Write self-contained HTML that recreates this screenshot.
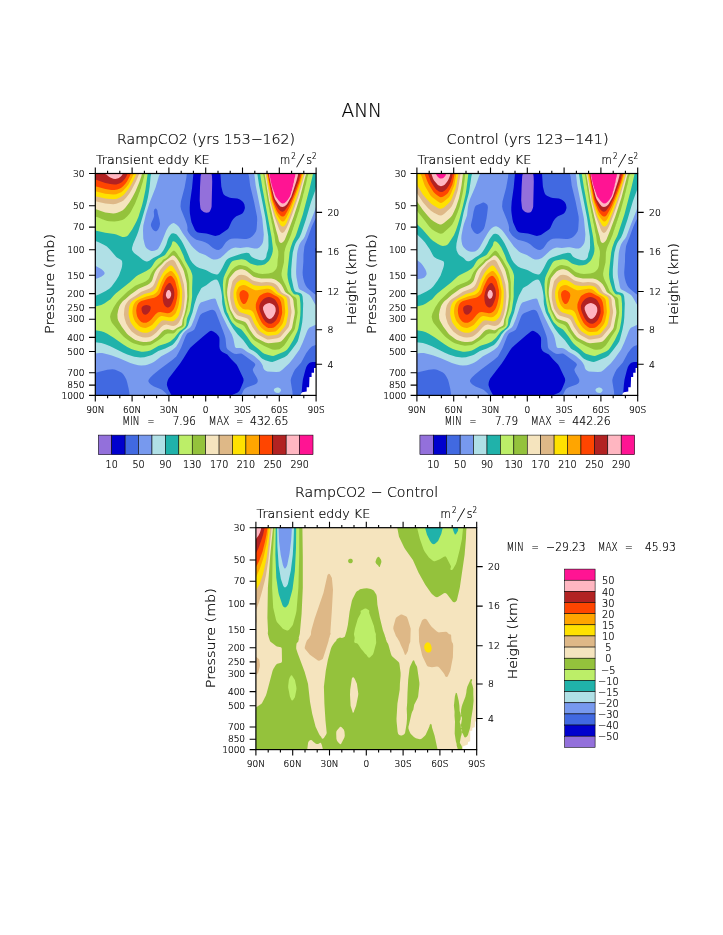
<!DOCTYPE html><html><head><meta charset="utf-8"><title>ANN Transient eddy KE</title>
<style>html,body{margin:0;padding:0;background:#fff}svg{display:block}text{font-family:"DejaVu Sans Light","DejaVu Sans","Liberation Sans",sans-serif;font-weight:200;fill:#000;stroke:#000;stroke-width:.22px}</style></head><body>
<svg width="723" height="935" viewBox="0 0 723 935">
<rect width="723" height="935" fill="#fff"/>
<defs><clipPath id="cp"><rect x="0" y="0" width="220.8" height="221.9"/></clipPath></defs>
<text x="361.7" y="116.9" font-size="20.0" text-anchor="middle" textLength="40.5" lengthAdjust="spacingAndGlyphs">ANN</text>
<g transform="translate(95.3,173.5)">
<g clip-path="url(#cp)"><rect x="0" y="0" width="220.8" height="221.9" fill="#9370DB"/>
<path d="M0.0,0.0 106.2,0.0 105.7,1.0 105.3,3.0 104.7,14.0 104.4,27.0 104.9,33.0 105.2,35.0 106.0,36.6 108.0,38.3 109.0,38.8 111.0,39.2 113.0,39.0 114.0,38.4 114.4,38.0 115.0,37.0 116.0,34.4 116.3,33.0 116.9,8.0 116.7,3.0 116.4,1.0 116.0,0.0 221.0,0.0 221.0,212.6 219.9,217.0 219.6,222.0 0.0,222.0Z" fill="#0000CD"/>
<path d="M0.0,0.0 98.1,0.0 96.8,14.0 94.8,28.0 94.4,34.0 94.4,37.0 94.6,40.0 95.6,46.0 96.3,49.0 99.4,56.0 100.0,57.0 101.0,58.0 102.0,58.7 104.0,59.3 111.0,59.9 113.0,60.4 118.0,62.1 120.0,62.4 122.0,62.1 124.0,61.4 132.0,56.0 133.0,55.0 133.6,54.0 136.3,48.0 138.0,45.6 139.5,44.0 141.0,42.8 145.2,41.0 147.0,39.9 148.0,38.7 148.9,37.0 149.5,35.0 149.6,34.0 149.1,31.0 148.1,29.0 147.0,27.8 145.0,26.3 144.0,25.8 142.0,25.1 136.0,24.4 133.9,24.0 130.0,22.3 128.5,21.0 127.9,20.0 127.2,18.0 126.0,12.9 125.1,0.0 221.0,0.0 221.0,73.4 220.3,75.0 220.2,76.0 220.7,80.0 221.0,92.2 221.0,188.5 220.0,188.6 217.0,188.5 215.0,188.9 214.0,189.5 213.0,190.5 212.0,191.8 211.0,193.6 209.9,197.0 207.6,206.0 207.0,211.0 206.1,222.0 135.6,222.0 142.0,219.3 143.0,218.6 144.0,217.6 145.0,215.7 147.8,209.0 148.3,207.0 148.1,205.0 142.4,193.0 141.2,191.0 136.0,185.8 132.0,181.1 131.0,180.4 127.0,178.5 125.4,177.0 124.4,175.0 124.1,173.0 124.2,166.0 124.0,164.0 123.0,162.2 121.0,159.9 118.0,158.0 116.0,157.3 115.0,157.4 114.0,158.1 109.0,161.9 98.0,171.5 95.0,174.3 93.0,176.9 88.1,185.0 84.8,190.0 73.3,205.0 72.4,207.0 71.8,209.0 71.6,211.0 71.7,212.0 73.1,216.0 76.3,222.0 0.0,222.0Z" fill="#4169E1"/>
<path d="M0.0,0.0 91.5,0.0 91.1,4.0 89.3,14.0 85.6,28.0 85.2,33.0 85.8,36.0 90.0,46.2 91.7,51.0 92.2,54.0 92.1,57.0 93.1,59.0 95.3,62.0 97.0,63.6 99.0,65.1 101.0,66.2 107.0,67.8 110.3,69.0 113.0,70.6 117.0,74.0 119.0,75.3 121.0,76.2 123.0,76.5 124.0,76.3 126.0,75.0 127.0,73.9 130.4,69.0 132.0,67.5 134.0,66.0 136.0,65.3 139.0,64.9 142.0,64.9 149.0,65.6 151.0,65.5 153.1,65.0 155.0,64.3 157.0,62.7 159.0,60.5 160.6,58.0 161.2,56.0 161.5,53.0 161.9,46.0 161.7,43.0 158.7,28.0 154.8,12.0 153.7,3.0 152.9,0.0 221.0,0.0 221.0,43.8 219.0,47.4 216.5,53.0 212.5,64.0 209.7,71.0 209.1,73.0 208.2,81.0 208.1,88.0 207.3,99.0 207.5,102.0 208.0,105.1 209.1,109.0 210.4,112.0 211.8,114.0 213.8,116.0 219.0,120.3 221.0,121.6 221.0,171.2 217.0,172.8 216.0,173.4 214.0,175.4 211.0,179.5 205.9,189.0 199.7,196.0 198.1,199.0 196.0,204.0 195.5,206.0 195.4,207.0 195.6,209.0 197.1,218.0 197.4,222.0 145.4,222.0 146.9,220.0 148.0,217.3 148.8,216.0 149.8,215.0 152.0,213.8 159.6,211.0 161.2,210.0 162.0,209.0 162.4,208.0 162.4,207.0 162.3,206.0 161.4,204.0 158.4,199.0 157.6,197.0 157.5,196.0 157.9,195.0 159.8,192.0 160.0,191.0 159.5,190.0 158.6,189.0 149.2,182.0 147.0,180.6 146.0,180.1 145.0,180.0 141.0,180.6 139.0,180.3 136.6,179.0 132.5,176.0 132.0,175.5 131.2,174.0 131.0,173.0 130.2,165.0 129.4,162.0 127.6,157.0 121.0,140.0 120.0,138.0 119.0,136.9 118.0,136.4 117.0,136.3 115.0,136.6 110.0,138.5 107.0,139.8 105.5,141.0 105.0,141.6 104.0,143.5 100.4,153.0 99.0,155.9 98.0,156.8 97.0,157.5 93.0,159.3 92.0,160.0 91.0,161.4 90.0,163.5 85.9,174.0 83.0,179.6 81.0,182.9 79.0,184.8 77.0,186.5 64.2,196.0 58.1,201.0 55.0,204.0 53.5,206.0 53.1,207.0 53.1,208.0 54.0,209.5 55.5,211.0 58.6,213.0 65.0,215.6 67.0,216.6 70.0,219.2 71.0,220.3 72.2,222.0 34.3,222.0 34.0,219.0 33.3,215.0 31.9,209.0 31.0,206.0 29.4,203.0 28.1,201.0 27.2,200.0 26.0,199.0 24.0,197.9 20.0,196.3 19.0,196.0 17.0,195.7 12.0,196.2 0.0,199.2ZM59.0,36.0 58.5,38.0 58.8,42.0 58.7,43.0 58.0,45.0 56.0,49.4 55.6,51.0 55.6,52.0 56.0,53.3 57.0,55.2 58.0,56.5 59.0,57.3 60.0,57.8 61.0,57.7 62.0,57.0 63.0,55.7 64.2,53.0 64.6,51.0 64.7,50.0 64.1,46.0 62.5,40.0 62.0,36.8 61.0,35.2 60.0,35.1Z" fill="#7799EE"/>
<path d="M0.0,0.0 65.2,0.0 64.0,1.8 63.5,3.0 60.3,14.0 54.0,30.0 50.6,41.0 48.0,52.0 47.7,57.0 48.0,65.0 49.4,71.0 50.0,72.8 50.7,74.0 51.6,75.0 53.0,76.0 54.7,77.0 56.0,77.4 57.0,77.5 59.0,77.2 61.0,76.5 62.0,75.9 63.0,74.9 65.0,71.4 67.0,67.0 71.0,57.1 73.0,53.5 74.0,52.2 76.0,50.5 78.0,49.6 79.0,49.7 81.0,50.9 83.0,52.8 84.0,54.0 87.6,60.0 96.0,71.9 98.0,74.2 101.0,77.0 104.0,79.2 110.0,81.6 116.0,85.2 118.0,85.9 120.0,86.1 122.0,85.8 125.0,84.4 128.0,82.1 133.0,77.3 136.0,75.3 138.0,74.4 140.0,74.1 145.0,74.4 151.0,73.7 153.0,73.7 159.0,74.9 162.0,75.0 163.0,74.6 164.0,73.9 166.0,71.7 167.1,70.0 167.5,69.0 168.0,66.7 168.5,61.0 167.0,45.0 160.4,12.0 159.2,2.0 158.8,0.0 221.0,0.0 221.0,32.5 219.2,38.0 213.6,52.0 209.5,63.0 208.0,65.6 206.6,67.0 205.2,69.0 204.1,71.0 203.4,73.0 202.3,77.0 201.8,80.0 201.1,90.0 200.8,98.0 200.9,101.0 201.2,104.0 202.9,113.0 203.6,115.0 204.5,116.0 208.0,117.7 213.4,121.0 214.6,122.0 216.0,124.0 219.4,130.0 221.0,132.2 221.0,151.0 215.0,153.7 214.0,154.3 213.0,155.4 212.0,157.2 207.4,169.0 204.2,176.0 197.8,185.0 194.0,189.7 187.0,196.2 185.0,197.8 184.0,198.2 181.0,198.5 172.0,197.9 170.0,197.1 168.8,196.0 168.0,194.6 167.4,192.0 165.7,189.0 164.1,187.0 159.0,182.6 156.7,181.0 152.0,178.4 149.0,176.2 147.0,175.1 145.0,174.5 141.0,174.5 140.1,174.0 139.6,173.0 138.0,165.0 136.6,161.0 132.2,153.0 126.8,142.0 122.3,131.0 120.6,126.0 120.0,125.3 119.0,125.1 116.0,125.6 107.0,128.4 106.0,128.8 105.0,129.5 104.0,131.0 103.0,133.2 99.1,145.0 96.2,152.0 94.8,154.0 90.0,157.5 88.0,159.8 86.7,162.0 83.4,169.0 81.0,173.1 80.0,174.1 77.0,176.4 73.0,178.9 66.0,182.7 60.0,187.5 58.0,188.7 56.0,189.7 52.0,191.3 50.0,191.8 46.0,192.0 43.0,191.7 39.0,190.7 35.0,189.5 24.0,184.8 16.5,182.0 13.0,180.9 9.0,179.9 7.0,179.6 4.0,179.6 0.0,180.0 0.0,105.5 3.0,104.5 6.3,103.0 8.0,101.8 8.8,101.0 9.3,100.0 9.2,99.0 8.6,98.0 6.6,96.0 5.0,94.9 0.0,92.3ZM181.8,214.0 183.0,214.0 184.0,214.4 184.9,215.0 185.6,216.0 185.7,217.0 185.2,218.0 184.0,219.2 183.0,219.5 181.0,219.3 180.0,218.7 179.2,218.0 178.6,217.0 178.6,216.0 179.3,215.0 181.0,214.2Z" fill="#B0E0E6"/>
<path d="M0.0,0.0 56.0,0.0 55.3,3.0 54.4,13.0 53.5,19.0 52.6,24.0 51.2,30.0 43.0,57.9 41.5,62.0 38.0,70.0 36.8,74.0 36.7,76.0 37.0,77.0 38.4,79.0 39.4,80.0 43.5,83.0 47.0,86.0 49.0,87.3 51.0,87.9 52.0,87.9 54.0,87.2 58.0,84.6 63.0,82.0 64.6,81.0 65.7,80.0 68.0,77.0 69.6,74.0 71.0,70.9 72.5,66.0 73.4,64.0 75.0,61.4 76.0,60.2 76.5,60.0 78.0,59.8 79.0,59.9 81.0,60.8 82.0,61.7 84.0,64.2 86.0,67.1 87.7,70.0 90.6,76.0 95.0,86.2 97.0,89.2 99.0,91.3 101.0,92.9 104.0,94.5 109.0,96.0 111.0,96.7 116.0,99.4 118.0,100.2 121.0,101.0 122.0,101.0 123.0,100.4 125.0,97.7 127.0,94.2 129.6,89.0 130.8,87.0 131.7,86.0 133.0,85.0 135.0,84.0 146.0,80.2 151.0,79.3 153.0,79.5 154.0,80.0 155.2,82.0 156.0,83.0 157.4,84.0 160.0,85.2 164.0,86.4 166.0,86.8 167.0,86.7 168.0,86.5 169.0,85.9 170.0,85.0 170.7,84.0 171.0,83.0 171.5,80.0 172.5,77.0 173.0,74.9 173.2,72.0 173.0,63.0 170.1,44.0 163.8,12.0 162.0,0.0 221.0,0.0 221.0,10.7 220.4,15.0 219.9,17.0 215.9,28.0 210.6,46.0 205.9,60.0 204.1,64.0 201.3,68.0 200.2,70.0 199.0,73.3 197.5,79.0 196.7,86.0 195.9,96.0 195.9,101.0 196.1,104.0 198.2,114.0 198.8,116.0 199.2,117.0 200.0,117.9 201.0,118.4 204.0,119.2 205.7,120.0 206.6,121.0 207.3,123.0 207.9,130.0 207.4,144.0 206.9,149.0 205.6,156.0 203.3,165.0 202.3,168.0 200.4,171.0 195.9,177.0 192.0,181.7 191.0,182.6 189.0,183.7 180.0,187.6 177.0,188.4 175.0,188.3 170.0,186.7 167.0,185.2 165.5,184.0 162.0,180.3 160.5,179.0 158.0,177.3 155.4,176.0 154.0,175.0 148.0,166.7 142.0,160.5 138.0,155.3 134.8,150.0 129.5,140.0 128.7,138.0 127.1,131.0 126.8,128.0 126.8,125.0 126.6,122.0 126.0,118.0 125.0,113.6 124.0,110.5 123.0,108.0 122.0,106.5 121.0,106.0 119.0,106.3 117.0,107.2 115.7,108.0 111.0,111.8 107.0,113.9 106.0,114.7 102.0,122.3 101.0,124.9 99.1,131.0 97.2,139.0 94.6,146.0 92.7,152.0 91.4,154.0 90.5,155.0 88.0,157.0 84.5,161.0 82.0,165.4 79.0,169.4 77.0,171.4 75.0,172.6 70.0,175.0 65.0,176.7 63.0,177.5 57.0,181.2 55.0,182.1 49.0,183.8 45.0,183.9 39.0,183.3 32.0,181.0 28.0,179.2 15.0,172.7 10.0,170.7 6.0,169.6 0.0,168.8 0.0,122.3 3.5,121.0 10.0,117.8 14.0,115.3 16.3,113.0 20.7,107.0 23.7,102.0 26.2,95.0 26.7,93.0 27.0,90.0 26.8,88.0 26.4,87.0 25.1,86.0 22.0,84.3 21.0,83.5 14.6,76.0 11.6,73.0 9.0,71.4 4.0,69.0 1.5,68.0 0.0,67.6Z" fill="#20B2AA"/>
<path d="M0.0,0.0 52.4,0.0 50.2,16.0 48.0,26.7 46.7,32.0 43.0,43.8 41.0,48.3 37.0,55.8 33.0,61.4 32.0,62.4 31.0,63.1 29.0,63.6 27.0,63.5 21.0,61.1 19.0,60.5 10.0,59.2 0.0,56.9ZM164.8,0.0 217.8,0.0 214.3,15.0 207.5,41.0 200.9,61.0 200.1,63.0 197.5,68.0 195.4,74.0 194.3,79.0 192.4,96.0 192.1,101.0 192.5,105.0 193.4,109.0 196.0,117.0 198.0,119.9 199.0,120.7 200.0,121.0 202.0,121.1 203.0,121.5 203.7,122.0 204.3,123.0 204.5,124.0 205.1,130.0 205.2,136.0 205.0,142.0 204.3,148.0 203.0,155.0 202.0,158.1 198.0,166.6 194.1,173.0 191.9,176.0 190.0,177.5 188.0,178.6 180.0,181.7 178.0,182.4 176.0,182.3 173.0,181.6 169.0,180.2 167.0,179.0 164.0,176.2 159.0,172.2 156.6,170.0 155.0,168.0 152.0,163.6 148.0,158.2 146.1,156.0 141.0,153.0 140.0,152.1 137.0,148.9 136.3,148.0 134.6,145.0 132.5,140.0 131.8,139.0 131.4,138.0 129.6,130.0 128.3,121.0 127.9,117.0 127.6,111.0 127.9,107.0 128.4,104.0 129.6,101.0 133.0,93.9 135.1,90.0 136.0,88.7 137.0,87.8 138.8,87.0 143.0,86.2 146.0,85.8 148.0,85.9 150.0,86.4 151.0,87.0 155.0,89.9 158.0,91.1 162.0,92.0 166.0,91.8 169.0,91.0 170.0,90.4 172.9,88.0 173.8,87.0 175.0,85.0 176.7,81.0 177.4,78.0 177.6,75.0 176.3,64.0 167.0,14.0ZM77.4,68.0 78.0,67.7 79.0,67.9 80.0,68.4 82.0,70.5 84.4,74.0 88.1,82.0 89.8,87.0 95.5,97.0 96.6,100.0 97.1,102.0 97.2,104.0 96.8,115.0 96.8,123.0 96.5,126.0 94.8,137.0 93.8,140.0 92.1,144.0 91.5,146.0 91.1,150.0 90.7,152.0 89.4,154.0 87.0,156.1 85.4,157.0 84.0,158.3 79.0,164.5 75.0,168.1 73.0,169.1 70.0,170.3 65.0,171.7 63.0,172.5 57.0,176.0 55.0,176.9 52.0,177.7 48.0,178.3 46.0,178.2 43.0,177.6 39.0,176.6 36.0,175.5 32.0,173.5 28.0,171.1 18.0,164.0 12.0,160.2 9.0,158.8 6.0,157.8 0.0,156.8 0.0,133.0 4.0,132.1 6.0,131.4 9.0,129.9 14.0,126.6 15.0,125.9 18.4,122.0 20.4,120.0 26.0,115.4 34.2,109.0 41.0,102.8 43.0,101.5 51.0,97.5 54.8,95.0 56.6,93.0 59.0,89.0 60.5,87.0 63.0,85.1 69.0,82.1 70.1,81.0 75.5,73.0 76.4,71.0 77.0,68.4Z" fill="#BCEE68"/>
<path d="M0.0,0.0 49.2,0.0 48.6,4.0 48.0,5.8 47.6,8.0 46.0,13.0 45.5,15.0 45.0,16.0 44.5,18.0 44.0,19.0 42.6,23.0 39.8,30.0 35.7,38.0 34.4,40.0 32.0,42.7 29.0,45.5 27.0,46.6 23.0,47.6 19.0,47.9 14.0,47.7 12.0,47.4 9.0,46.6 8.0,46.0 7.0,45.7 3.1,44.0 0.0,42.9ZM167.7,0.0 213.3,0.0 212.0,4.0 210.6,11.0 210.0,12.7 208.6,19.0 208.0,20.8 207.6,23.0 203.5,38.0 203.0,39.0 201.5,44.0 201.0,45.1 200.5,47.0 200.0,48.0 199.5,50.0 199.0,51.0 198.5,53.0 198.0,54.0 197.5,56.0 197.0,57.0 195.8,61.0 193.3,67.0 191.0,72.0 189.9,75.0 189.0,79.0 188.8,86.0 188.6,89.0 186.9,96.0 186.2,100.0 186.3,102.0 187.1,105.0 187.9,107.0 190.4,112.0 192.9,118.0 197.0,122.1 200.3,124.0 201.0,125.0 201.4,126.0 202.3,139.0 201.6,144.0 201.0,146.7 199.8,154.0 199.6,155.0 198.7,157.0 194.0,164.0 191.6,168.0 188.8,172.0 186.0,174.6 184.0,175.7 180.0,176.2 179.0,176.2 177.0,175.9 174.0,174.8 169.0,172.4 160.0,167.5 158.1,166.0 156.4,164.0 151.4,157.0 151.0,156.0 149.2,153.0 148.2,152.0 146.6,151.0 143.0,149.7 141.0,148.7 139.0,146.9 138.2,146.0 137.2,144.0 133.4,136.0 133.0,134.0 132.7,133.0 131.3,127.0 131.0,125.0 130.5,123.0 130.1,120.0 130.0,117.0 130.2,111.0 130.6,108.0 131.2,105.0 132.7,102.0 135.2,98.0 137.0,95.8 140.0,93.3 141.0,92.7 143.0,91.8 145.0,91.5 150.0,92.4 152.0,93.2 155.0,95.4 158.0,97.9 160.0,99.0 162.0,99.5 163.0,100.0 167.0,100.5 173.4,100.0 177.0,98.9 178.5,98.0 180.0,96.6 181.1,95.0 182.0,92.3 182.4,86.0 183.0,81.8 183.0,78.0 182.0,74.1 180.7,71.0 180.1,69.0 179.0,61.0 178.4,59.0 177.0,51.0 176.4,49.0 176.0,46.0 175.4,44.0 175.0,41.0 174.4,39.0 174.0,35.9 172.3,28.0 171.0,19.4 170.3,16.0 170.0,13.0 169.5,11.0 169.0,6.7 168.0,1.0ZM77.1,78.0 78.0,77.3 79.0,77.2 80.0,77.9 81.7,80.0 83.0,82.2 85.7,86.0 90.7,95.0 91.5,97.0 92.6,101.0 93.5,106.0 93.9,109.0 93.9,112.0 93.9,121.0 93.7,126.0 93.0,130.0 92.7,133.0 91.8,137.0 90.7,141.0 88.9,146.0 88.8,151.0 88.6,152.0 87.9,153.0 87.0,153.8 82.0,155.9 80.5,158.0 79.0,159.5 78.0,159.9 77.0,160.0 72.5,160.0 70.0,160.9 66.0,164.5 63.0,166.8 57.0,170.6 55.0,171.4 53.0,171.8 48.0,172.3 44.0,171.6 38.0,169.8 36.0,168.8 34.0,167.4 30.0,164.5 28.2,163.0 25.4,160.0 17.2,150.0 16.5,149.0 15.6,147.0 14.9,144.0 14.8,143.0 15.5,140.0 18.3,134.0 21.5,129.0 24.0,126.1 32.0,118.3 40.0,112.3 44.0,110.4 48.0,109.0 49.0,108.4 50.2,108.0 52.9,106.0 54.0,104.4 55.4,101.0 56.0,100.0 56.4,99.0 58.6,96.0 63.0,91.3 66.5,88.0 67.1,87.0 68.0,86.1 70.2,85.0 72.0,83.7 76.0,79.0Z" fill="#94C23C"/>
<path d="M0.0,0.0 46.8,0.0 46.0,3.1 44.0,8.7 40.0,18.2 37.0,24.0 34.0,29.1 30.0,34.2 28.3,36.0 27.1,37.0 25.0,38.1 22.0,39.2 20.0,39.8 18.0,39.9 14.0,39.5 10.0,38.9 7.0,38.0 0.0,35.5ZM169.2,0.0 211.1,0.0 210.0,3.3 204.6,24.0 198.4,43.0 193.2,57.0 189.6,66.0 189.0,67.1 188.0,68.3 187.0,69.1 186.0,69.5 185.0,69.2 184.7,69.0 184.0,68.2 183.5,67.0 182.7,63.0 181.0,57.3 177.3,43.0 173.7,27.0 170.0,3.9ZM77.5,82.0 78.0,81.9 79.0,82.3 81.6,85.0 83.6,88.0 87.5,95.0 88.7,98.0 91.0,107.2 91.5,110.0 92.0,123.0 91.3,130.0 90.3,136.0 89.1,141.0 87.4,146.0 86.7,151.0 86.2,152.0 85.0,152.8 82.0,154.2 79.0,156.3 78.0,156.7 77.0,156.7 74.0,156.0 72.0,155.8 70.0,156.2 69.0,156.6 67.0,158.1 63.5,162.0 62.0,163.4 57.0,167.0 55.0,167.9 51.0,168.5 48.0,168.6 45.0,167.9 40.0,166.4 38.0,165.3 36.0,163.8 33.0,161.5 31.5,160.0 26.3,153.0 23.0,147.3 22.3,145.0 22.1,141.0 22.8,137.0 24.0,133.0 25.0,131.0 27.0,128.3 28.0,127.3 30.0,125.8 33.0,122.9 35.0,121.3 43.0,115.4 45.0,114.4 52.0,111.5 54.0,110.3 55.0,109.3 56.2,108.0 57.0,106.6 58.7,101.0 59.5,99.0 60.6,97.0 62.1,95.0 67.0,90.2 69.0,88.0 73.2,85.0 76.0,82.8 77.0,82.1ZM143.8,96.0 145.0,95.8 147.0,95.8 150.0,96.8 152.0,98.0 158.0,102.9 160.9,104.0 166.0,105.1 173.0,104.9 176.0,105.1 179.0,105.8 181.0,106.7 184.0,108.9 185.9,111.0 187.7,114.0 189.6,118.0 190.5,119.0 194.9,122.0 196.7,124.0 197.4,125.0 198.1,127.0 198.6,132.0 199.4,137.0 199.5,139.0 199.3,141.0 196.8,154.0 196.0,155.7 195.1,157.0 188.0,165.8 186.0,167.7 185.0,168.2 183.0,168.7 176.0,169.6 173.0,169.8 172.0,169.6 170.0,168.9 162.0,165.0 160.0,163.6 157.8,161.0 154.4,156.0 151.9,151.0 150.4,149.0 148.7,148.0 143.0,146.3 141.0,145.4 139.5,144.0 138.0,141.6 135.0,136.0 134.0,132.3 132.6,126.0 132.0,122.0 131.8,119.0 132.0,115.6 133.4,107.0 134.0,105.1 134.6,104.0 137.0,100.9 139.7,98.0 141.3,97.0Z" fill="#F5E4BE"/>
<path d="M0.0,0.0 44.0,0.0 40.6,8.0 36.5,16.0 34.1,20.0 31.0,24.0 28.2,27.0 26.0,28.3 21.0,30.3 18.0,30.7 10.0,30.0 0.0,27.8ZM170.2,0.0 209.6,0.0 203.4,22.0 196.4,42.0 193.0,50.8 191.0,55.1 189.0,58.2 188.0,59.1 187.0,59.5 186.0,59.1 185.0,58.0 184.0,56.3 178.7,42.0 174.7,27.0ZM74.3,87.0 76.0,86.4 77.0,86.3 78.0,86.5 79.0,87.2 80.0,88.6 83.7,96.0 85.0,99.0 86.4,103.0 88.6,111.0 89.4,119.0 89.5,123.0 89.3,126.0 88.4,135.0 87.0,141.0 86.0,144.0 85.0,146.3 83.5,149.0 82.0,150.8 81.0,151.5 80.0,152.0 78.0,152.4 76.0,152.2 71.0,151.1 69.0,151.5 67.9,152.0 66.0,153.6 61.0,159.1 58.0,161.5 55.7,163.0 53.0,163.8 50.0,164.1 47.0,163.7 44.0,162.8 42.0,161.9 40.0,160.7 36.4,158.0 33.3,154.0 30.9,150.0 29.3,145.0 28.6,141.0 29.1,135.0 29.9,132.0 31.0,130.0 33.0,127.2 35.0,125.5 40.6,122.0 46.0,118.3 48.0,117.4 54.5,115.0 56.0,114.1 57.0,113.2 58.0,112.0 59.0,110.3 63.1,100.0 65.2,96.0 71.0,89.2ZM142.8,102.0 144.0,101.5 146.0,101.3 148.0,101.5 150.0,102.0 152.0,103.0 157.0,106.7 159.0,107.6 161.0,108.1 166.0,108.9 171.0,108.6 174.0,108.7 176.0,109.0 178.0,109.6 180.0,110.6 182.0,112.3 183.3,114.0 185.6,118.0 186.5,119.0 188.0,120.0 192.0,122.1 193.3,123.0 194.0,123.9 194.7,126.0 195.0,130.2 196.1,137.0 196.2,139.0 194.1,151.0 193.5,153.0 193.0,154.0 186.4,162.0 185.0,163.4 184.0,164.1 182.0,164.7 174.0,165.9 172.0,165.9 169.0,164.6 164.0,161.8 161.7,160.0 157.0,153.3 154.0,147.1 153.0,145.8 152.0,145.1 150.0,144.3 144.0,142.6 142.5,142.0 141.0,140.8 139.0,138.2 137.1,135.0 136.0,131.0 135.0,126.0 134.8,124.0 134.9,119.0 135.3,116.0 137.1,108.0 138.0,106.6 139.0,105.4 141.0,103.5Z" fill="#DEB887"/>
<path d="M0.0,0.0 41.3,0.0 38.1,7.0 35.4,12.0 33.0,15.7 29.0,20.7 27.0,22.6 25.0,23.8 21.0,25.4 20.0,25.6 18.0,25.8 10.0,25.1 0.0,22.7ZM170.9,0.0 208.5,0.0 206.3,8.0 202.3,21.0 196.0,38.2 191.0,49.9 190.0,51.4 189.0,52.5 188.0,53.0 186.9,53.0 186.0,52.5 185.0,51.4 181.0,43.9 179.8,41.0 175.6,27.0ZM75.0,92.0 76.0,92.0 77.0,92.4 78.0,93.4 80.0,96.4 83.2,102.0 84.5,106.0 86.7,116.0 86.9,118.0 86.8,122.0 86.7,126.0 86.3,131.0 85.6,135.0 83.4,142.0 82.1,144.0 81.0,145.3 79.1,147.0 78.0,147.6 77.0,147.8 75.0,147.8 69.0,146.8 67.1,147.0 66.0,147.5 64.0,149.4 59.4,155.0 57.0,156.8 54.0,158.6 52.0,159.2 49.0,159.2 47.0,158.9 45.0,158.2 42.0,156.5 40.0,154.9 36.8,151.0 35.5,149.0 35.0,148.0 33.7,143.0 33.2,140.0 33.7,134.0 34.6,131.0 35.7,129.0 37.0,127.4 40.6,125.0 49.0,120.6 55.0,118.9 57.0,118.1 59.0,116.5 60.0,115.3 60.8,114.0 63.6,107.0 67.3,100.0 69.0,97.6 72.0,94.2 74.0,92.4ZM144.4,107.0 146.0,106.3 147.0,106.2 150.0,106.7 152.7,108.0 158.0,111.5 160.0,112.1 165.0,112.5 173.0,112.1 176.0,112.6 178.0,113.5 179.0,114.3 180.0,115.4 181.8,118.0 182.7,119.0 186.0,121.0 189.8,123.0 191.0,124.0 191.5,125.0 191.8,126.0 193.0,138.0 192.7,141.0 191.2,149.0 190.6,151.0 189.4,153.0 184.5,159.0 183.0,160.5 182.0,161.1 180.0,161.6 173.0,162.3 171.0,161.8 168.0,160.1 164.8,158.0 162.9,156.0 159.6,151.0 158.5,149.0 156.4,144.0 155.8,143.0 155.0,142.2 153.0,141.2 145.6,139.0 144.0,137.9 142.0,135.4 140.5,133.0 139.3,129.0 138.3,124.0 138.2,119.0 138.5,117.0 139.3,114.0 140.9,110.0 142.0,108.7Z" fill="#FFE100"/>
<path d="M0.0,0.0 38.6,0.0 36.3,5.0 33.1,11.0 31.0,13.7 28.0,17.1 26.0,18.7 24.0,19.6 21.0,20.7 18.0,21.1 10.0,20.3 0.0,17.7ZM171.6,0.0 207.5,0.0 205.4,8.0 202.0,17.9 196.0,33.7 191.0,44.6 189.4,47.0 189.0,47.5 188.0,48.0 187.0,48.0 186.0,47.4 184.0,45.0 182.0,42.1 181.0,40.2 180.0,37.6 177.0,28.9 176.0,24.9ZM74.0,98.0 75.0,97.5 76.0,97.5 77.0,98.0 79.0,100.3 81.0,103.5 81.7,105.0 82.3,107.0 84.5,117.0 84.6,119.0 84.4,124.0 83.6,130.0 82.6,134.0 80.7,139.0 80.0,140.2 79.0,141.3 77.0,143.0 76.0,143.5 75.0,143.7 73.0,143.7 67.0,142.6 66.0,142.6 64.7,143.0 63.2,144.0 62.0,145.2 57.0,151.2 55.0,152.6 53.0,153.6 51.0,154.3 50.0,154.4 47.0,154.0 45.0,153.3 43.0,151.8 40.0,148.3 38.8,146.0 37.8,143.0 37.2,140.0 37.1,138.0 37.5,134.0 38.4,131.0 39.6,129.0 40.4,128.0 42.0,126.7 44.0,125.7 51.0,123.1 58.0,121.2 59.9,120.0 61.1,119.0 62.0,118.0 63.0,116.3 65.7,109.0 69.0,102.6 71.0,100.3ZM145.9,112.0 148.0,111.5 150.0,111.8 152.0,112.7 157.0,115.5 160.0,116.7 162.0,116.8 171.0,115.3 173.0,115.3 175.0,115.8 177.0,116.9 180.4,120.0 182.0,121.0 185.0,122.5 187.1,124.0 188.0,125.0 188.6,126.0 189.0,127.8 189.9,137.0 189.9,139.0 189.4,142.0 188.1,148.0 187.3,150.0 186.0,151.9 183.0,155.4 181.0,157.4 180.0,157.9 178.0,158.3 175.0,158.6 173.0,158.6 171.0,157.9 169.0,156.7 166.0,154.3 164.0,151.8 161.0,146.3 158.6,140.0 158.0,138.9 157.0,137.7 156.0,137.0 155.0,136.5 153.0,136.1 150.0,136.0 148.0,135.4 147.0,134.9 145.0,133.0 144.0,131.7 143.1,130.0 142.0,126.9 141.3,124.0 141.0,120.0 141.0,119.0 141.6,117.0 143.0,114.1 144.0,113.0Z" fill="#FFA500"/>
<path d="M0.0,0.0 35.7,0.0 34.0,3.7 31.7,8.0 30.3,10.0 28.0,12.5 26.0,14.3 24.7,15.0 22.0,16.0 19.0,16.6 16.0,16.5 10.0,15.6 0.0,12.7ZM172.2,0.0 206.4,0.0 206.0,2.1 204.0,9.0 200.0,19.8 195.0,31.9 192.0,37.8 190.0,41.2 189.0,42.4 188.0,43.0 187.0,43.1 186.0,42.7 185.0,41.9 183.0,39.8 182.0,38.3 181.0,36.2 178.0,28.8 177.0,25.7ZM73.3,103.0 75.0,102.2 76.0,102.4 77.0,103.2 79.0,106.0 80.0,108.3 82.1,117.0 82.2,121.0 81.7,125.0 80.3,131.0 79.2,134.0 78.2,136.0 76.5,138.0 75.0,139.1 74.0,139.5 72.0,139.7 65.0,138.5 63.0,138.7 62.0,139.2 60.0,140.9 55.9,146.0 54.8,147.0 53.0,148.2 51.0,149.2 50.0,149.3 48.0,149.2 46.0,148.4 44.4,147.0 42.9,145.0 41.9,143.0 41.2,140.0 40.9,137.0 41.3,134.0 41.8,132.0 42.8,130.0 44.0,128.7 46.0,127.6 53.0,125.5 59.0,124.2 61.0,123.3 63.0,121.7 64.0,120.7 65.0,119.0 67.0,112.9 70.0,106.7 71.1,105.0 72.0,104.0ZM146.5,117.0 148.0,116.6 149.0,116.8 151.0,117.8 152.4,119.0 153.0,120.0 153.3,121.0 153.4,122.0 153.1,124.0 151.6,128.0 150.2,130.0 149.0,130.6 148.0,130.5 147.3,130.0 146.0,128.3 145.0,126.0 144.3,123.0 144.1,121.0 144.5,119.0 145.2,118.0ZM168.2,120.0 170.0,119.4 172.0,119.0 174.0,119.2 176.0,119.9 179.0,121.7 181.6,123.0 183.0,124.0 184.6,126.0 185.8,129.0 186.5,133.0 186.9,139.0 186.6,141.0 185.2,146.0 184.5,148.0 183.1,150.0 180.0,152.9 178.0,154.2 176.0,154.6 173.0,154.4 171.0,153.5 168.0,151.0 166.4,149.0 163.8,144.0 162.2,140.0 160.8,136.0 160.5,134.0 160.5,131.0 161.0,129.0 162.7,125.0 163.8,123.0 164.8,122.0Z" fill="#FF4500"/>
<path d="M0.0,0.0 32.4,0.0 31.0,3.0 30.0,4.8 29.0,6.1 27.0,8.3 26.0,9.1 24.0,10.1 21.0,10.9 19.0,11.1 15.0,10.6 10.0,9.5 0.0,6.1ZM172.9,0.0 205.1,0.0 204.0,4.9 203.0,8.0 197.0,24.0 193.0,32.0 190.0,36.3 189.0,37.4 188.0,38.1 187.0,38.3 186.0,38.1 185.0,37.6 183.0,35.6 181.0,32.1 178.2,26.0 175.0,11.8ZM73.0,110.0 74.0,109.5 75.0,109.6 76.0,110.5 77.4,113.0 78.3,115.0 78.7,117.0 79.0,119.0 79.0,122.0 78.5,125.0 77.0,128.9 75.6,132.0 75.0,132.8 74.0,133.6 73.0,134.0 72.0,134.0 71.0,133.6 70.0,132.8 69.0,131.4 68.3,130.0 67.6,127.0 67.4,123.0 68.1,119.0 69.4,115.0 71.0,112.3ZM171.0,124.0 173.0,123.5 174.0,123.5 176.0,124.1 179.0,125.6 180.4,127.0 182.0,129.7 183.0,132.0 183.5,134.0 183.8,138.0 183.6,140.0 182.0,144.3 181.0,146.2 180.0,147.5 178.0,149.2 176.0,150.2 175.0,150.3 173.0,149.9 171.3,149.0 170.0,147.9 168.0,145.2 166.8,143.0 165.0,138.8 164.2,136.0 164.0,134.0 164.1,132.0 165.0,129.6 166.0,128.0 167.7,126.0 169.0,125.0ZM48.7,132.0 51.0,131.6 53.7,132.0 55.0,132.7 55.5,134.0 55.2,136.0 54.3,138.0 53.0,139.6 52.0,140.5 51.0,141.1 50.0,141.3 49.0,141.1 48.0,140.4 47.0,138.9 46.4,137.0 46.2,135.0 46.4,134.0 47.1,133.0Z" fill="#B22222"/>
<path d="M8.6,0.0 27.7,0.0 26.5,2.0 25.0,3.6 23.0,4.7 20.0,5.4 18.0,5.2 15.0,4.0 13.4,3.0 11.0,1.1ZM173.6,0.0 202.9,0.0 202.6,2.0 201.3,7.0 196.0,23.0 192.0,30.2 191.0,31.4 189.0,32.9 187.0,33.5 186.0,33.3 185.0,32.9 183.0,30.8 180.0,26.2 179.4,25.0 178.7,23.0 175.6,11.0 174.0,3.0ZM72.1,117.0 73.0,116.5 74.0,116.6 75.2,118.0 75.9,120.0 75.8,122.0 75.0,124.0 74.0,125.0 73.0,125.3 72.0,124.9 71.0,123.3 70.6,122.0 70.6,121.0 71.0,119.0ZM171.9,130.0 174.0,129.6 175.0,129.7 177.0,130.5 179.0,132.1 180.0,133.8 180.3,135.0 180.4,137.0 180.3,138.0 179.2,141.0 178.0,142.9 177.0,144.0 176.0,144.9 175.0,145.3 174.0,145.4 173.0,145.0 172.0,144.2 171.0,143.0 169.0,139.3 167.8,136.0 167.7,134.0 168.1,133.0 169.0,131.8 169.9,131.0Z" fill="#FFB6C1"/>
<path d="M174.2,0.0 200.1,0.0 199.8,3.0 199.0,5.6 198.5,9.0 198.0,10.3 197.6,13.0 197.0,14.6 196.6,17.0 196.0,18.0 195.7,20.0 194.6,23.0 192.7,26.0 191.0,28.0 189.0,29.8 187.0,29.9 186.0,29.6 185.0,28.8 183.3,27.0 180.3,23.0 180.0,21.9 179.5,21.0 179.0,19.0 178.4,18.0 178.0,16.3 177.3,15.0 176.9,13.0 176.4,12.0 176.0,9.7 175.4,8.0 175.0,4.7 174.4,3.0Z" fill="#FF1493"/>
<path d="M220.8,194.6H218.7V199.3H216.3V203.5H214.2L213.8,213.8H211.4V218L206.9,218.7L205.5,220.4V221.9H220.8z" fill="#fff"/>
</g>
<rect x="0" y="0" width="220.8" height="221.9" fill="none" stroke="#000" stroke-width="1.2"/>
<path d="M0.0,0v-6.0M0.0,221.9v6.0M12.3,0v-2.8M12.3,221.9v2.8M24.5,0v-2.8M24.5,221.9v2.8M36.8,0v-6.0M36.8,221.9v6.0M49.1,0v-2.8M49.1,221.9v2.8M61.3,0v-2.8M61.3,221.9v2.8M73.6,0v-6.0M73.6,221.9v6.0M85.9,0v-2.8M85.9,221.9v2.8M98.1,0v-2.8M98.1,221.9v2.8M110.4,0v-6.0M110.4,221.9v6.0M122.7,0v-2.8M122.7,221.9v2.8M134.9,0v-2.8M134.9,221.9v2.8M147.2,0v-6.0M147.2,221.9v6.0M159.5,0v-2.8M159.5,221.9v2.8M171.7,0v-2.8M171.7,221.9v2.8M184.0,0v-6.0M184.0,221.9v6.0M196.3,0v-2.8M196.3,221.9v2.8M208.5,0v-2.8M208.5,221.9v2.8M220.8,0v-6.0M220.8,221.9v6.0M0,0.0h-6.3M0,32.3h-6.3M0,53.6h-6.3M0,76.2h-6.3M0,101.8h-6.3M0,120.1h-6.3M0,134.2h-6.3M0,145.7h-6.3M0,163.9h-6.3M0,178.0h-6.3M0,199.3h-6.3M0,211.6h-6.3M0,221.9h-6.3M220.8,38.9h6M220.8,78.4h6M220.8,118.0h6M220.8,156.3h6M220.8,190.8h6" stroke="#000" stroke-width="1.1" fill="none"/>
<text x="-10.8" y="3.2" font-size="9.0" text-anchor="end">30</text>
<text x="-10.8" y="35.5" font-size="9.0" text-anchor="end">50</text>
<text x="-10.8" y="56.8" font-size="9.0" text-anchor="end">70</text>
<text x="-10.8" y="79.4" font-size="9.0" text-anchor="end">100</text>
<text x="-10.8" y="105.0" font-size="9.0" text-anchor="end">150</text>
<text x="-10.8" y="123.3" font-size="9.0" text-anchor="end">200</text>
<text x="-10.8" y="137.4" font-size="9.0" text-anchor="end">250</text>
<text x="-10.8" y="148.9" font-size="9.0" text-anchor="end">300</text>
<text x="-10.8" y="167.1" font-size="9.0" text-anchor="end">400</text>
<text x="-10.8" y="181.2" font-size="9.0" text-anchor="end">500</text>
<text x="-10.8" y="202.5" font-size="9.0" text-anchor="end">700</text>
<text x="-10.8" y="214.8" font-size="9.0" text-anchor="end">850</text>
<text x="-10.8" y="225.1" font-size="9.0" text-anchor="end">1000</text>
<text x="232.1" y="42.2" font-size="9.3" text-anchor="start">20</text>
<text x="232.1" y="81.7" font-size="9.3" text-anchor="start">16</text>
<text x="232.1" y="121.3" font-size="9.3" text-anchor="start">12</text>
<text x="232.1" y="159.6" font-size="9.3" text-anchor="start">8</text>
<text x="232.1" y="194.1" font-size="9.3" text-anchor="start">4</text>
<text x="0.0" y="239.5" font-size="9.0" text-anchor="middle">90N</text>
<text x="36.8" y="239.5" font-size="9.0" text-anchor="middle">60N</text>
<text x="73.6" y="239.5" font-size="9.0" text-anchor="middle">30N</text>
<text x="110.4" y="239.5" font-size="9.0" text-anchor="middle">0</text>
<text x="147.2" y="239.5" font-size="9.0" text-anchor="middle">30S</text>
<text x="184.0" y="239.5" font-size="9.0" text-anchor="middle">60S</text>
<text x="220.8" y="239.5" font-size="9.0" text-anchor="middle">90S</text>
<text x="0.6" y="-9.4" font-size="12.3" text-anchor="start" textLength="113.7" lengthAdjust="spacingAndGlyphs">Transient eddy KE</text>
<text font-size="12.3"><tspan x="184.7" y="-9.4" textLength="10.2" lengthAdjust="spacingAndGlyphs">m</tspan><tspan x="196.0" y="-14.8" font-size="8.2" textLength="4.6" lengthAdjust="spacingAndGlyphs">2</tspan><tspan x="201.0" y="-8.0" font-size="17.5" rotate="12" stroke-width="0">/</tspan><tspan x="210.9" y="-9.4" textLength="5.8" lengthAdjust="spacingAndGlyphs">s</tspan><tspan x="216.7" y="-14.8" font-size="8.2" textLength="4.6" lengthAdjust="spacingAndGlyphs">2</tspan></text>
<text x="110.7" y="-29.3" font-size="14.6" text-anchor="middle" textLength="178.0" lengthAdjust="spacingAndGlyphs">RampCO2 (yrs 153&#8722;162)</text>
<text x="-41.3" y="110.5" font-size="12.5" text-anchor="middle" textLength="100.0" lengthAdjust="spacingAndGlyphs" transform="rotate(-90 -41.3 110.5)">Pressure (mb)</text>
<text x="260.6" y="110.5" font-size="12.5" text-anchor="middle" textLength="82.0" lengthAdjust="spacingAndGlyphs" transform="rotate(-90 260.6 110.5)">Height (km)</text>
</g>
<g transform="translate(416.9,173.5)">
<g clip-path="url(#cp)"><rect x="0" y="0" width="220.8" height="221.9" fill="#9370DB"/>
<path d="M0.0,0.0 106.2,0.0 105.7,1.0 105.3,3.0 104.7,14.0 104.3,27.0 104.9,33.0 105.2,35.0 106.0,36.6 108.0,38.3 109.0,38.8 111.0,39.2 113.0,39.0 114.0,38.4 114.4,38.0 115.0,37.0 116.0,34.4 116.3,33.0 116.9,8.0 116.7,3.0 116.4,1.0 116.0,0.0 221.0,0.0 221.0,213.0 220.1,217.0 219.8,222.0 0.0,222.0Z" fill="#0000CD"/>
<path d="M0.0,0.0 98.1,0.0 96.8,14.0 94.8,28.0 94.4,34.0 94.4,37.0 94.7,40.0 95.6,46.0 96.3,49.0 99.4,56.0 100.0,57.0 101.0,58.0 102.0,58.7 104.0,59.3 111.0,59.9 113.0,60.4 118.0,62.1 120.0,62.4 122.0,62.1 124.0,61.4 132.0,56.0 133.0,55.0 133.6,54.0 136.3,48.0 138.0,45.6 139.5,44.0 141.0,42.8 145.2,41.0 147.0,39.9 148.0,38.7 148.9,37.0 149.5,35.0 149.6,34.0 149.1,31.0 148.1,29.0 147.0,27.8 145.0,26.3 144.0,25.8 142.0,25.1 136.0,24.4 133.9,24.0 130.0,22.3 128.5,21.0 127.9,20.0 127.2,18.0 126.0,12.9 125.1,0.0 221.0,0.0 221.0,73.4 220.3,75.0 220.2,76.0 220.7,80.0 221.0,91.9 221.0,188.5 217.0,188.5 215.0,188.9 214.0,189.5 213.0,190.5 212.0,191.8 211.0,193.6 209.9,197.0 207.6,206.0 207.0,211.0 206.1,222.0 135.6,222.0 142.0,219.3 143.0,218.6 144.0,217.6 145.0,215.7 147.8,209.0 148.3,207.0 148.1,205.0 142.4,193.0 141.2,191.0 136.0,185.8 132.0,181.1 131.0,180.4 127.0,178.5 125.4,177.0 124.4,175.0 124.1,173.0 124.2,166.0 124.0,164.0 123.0,162.2 121.0,159.9 118.0,158.0 116.0,157.3 115.0,157.4 114.0,158.1 109.0,161.9 98.0,171.5 95.0,174.3 93.0,176.9 88.1,185.0 84.8,190.0 73.3,205.0 72.4,207.0 71.8,209.0 71.6,211.0 71.7,212.0 73.1,216.0 76.3,222.0 0.0,222.0Z" fill="#4169E1"/>
<path d="M0.0,0.0 91.5,0.0 91.1,4.0 89.3,14.0 85.6,28.0 85.2,33.0 85.8,36.0 90.0,46.3 91.6,51.0 92.2,54.0 92.1,57.0 93.2,59.0 95.3,62.0 97.0,63.6 99.0,65.1 101.0,66.2 107.0,67.8 110.3,69.0 113.0,70.6 117.0,74.0 119.0,75.3 121.0,76.2 123.0,76.5 124.0,76.3 126.0,75.0 127.0,73.9 130.4,69.0 132.0,67.5 134.0,66.0 136.0,65.3 139.0,64.9 142.0,64.9 149.0,65.6 151.0,65.5 153.1,65.0 155.0,64.3 157.0,62.7 159.0,60.5 160.6,58.0 161.2,56.0 161.5,53.0 161.9,46.0 161.7,43.0 158.7,28.0 154.8,12.0 153.7,3.0 152.9,0.0 221.0,0.0 221.0,43.8 219.0,47.4 216.5,53.0 212.5,64.0 209.7,71.0 209.1,73.0 208.2,81.0 208.1,88.0 207.3,99.0 207.5,102.0 208.0,105.1 209.1,109.0 210.4,112.0 211.8,114.0 213.8,116.0 219.0,120.3 221.0,121.6 221.0,171.2 217.0,172.8 216.0,173.4 214.0,175.4 211.0,179.5 205.9,189.0 199.7,196.0 198.1,199.0 196.0,204.0 195.5,206.0 195.4,207.0 195.6,209.0 197.1,218.0 197.4,222.0 145.4,222.0 146.9,220.0 148.0,217.3 148.8,216.0 149.8,215.0 152.0,213.8 159.6,211.0 161.2,210.0 162.0,209.0 162.4,208.0 162.4,207.0 162.3,206.0 161.4,204.0 158.4,199.0 157.6,197.0 157.5,196.0 157.9,195.0 159.8,192.0 160.0,191.0 159.5,190.0 158.6,189.0 149.2,182.0 147.0,180.6 146.0,180.1 145.0,180.0 141.0,180.6 139.0,180.3 136.6,179.0 132.5,176.0 132.0,175.5 131.2,174.0 131.0,173.0 130.2,165.0 129.4,162.0 127.6,157.0 121.0,140.0 120.0,138.0 119.0,136.9 118.0,136.4 117.0,136.3 115.0,136.6 110.0,138.5 107.0,139.8 105.5,141.0 105.0,141.6 104.0,143.5 100.4,153.0 99.0,155.9 98.0,156.8 97.0,157.5 93.0,159.3 92.0,160.0 91.0,161.4 90.0,163.5 85.9,174.0 83.0,179.6 81.0,182.9 79.0,184.8 77.0,186.5 64.2,196.0 58.1,201.0 55.0,204.0 53.5,206.0 53.1,207.0 53.1,208.0 54.0,209.5 55.5,211.0 58.6,213.0 65.0,215.6 67.0,216.6 70.0,219.2 71.0,220.3 72.2,222.0 34.3,222.0 34.0,219.0 33.3,215.0 31.9,209.0 31.0,206.0 29.4,203.0 28.1,201.0 27.2,200.0 26.0,199.0 24.0,197.9 20.0,196.3 19.0,196.0 17.0,195.7 12.0,196.2 0.0,199.1ZM64.0,30.0 59.1,32.0 58.0,33.5 56.7,38.0 55.7,44.0 54.1,51.0 54.0,52.0 54.4,54.0 55.9,57.0 57.0,58.5 58.0,59.4 59.0,60.1 60.0,60.5 61.0,60.5 63.0,59.5 65.7,57.0 67.0,55.2 68.0,52.2 68.7,49.0 69.6,45.0 70.3,40.0 71.0,34.0 70.7,32.0 70.1,31.0 68.9,30.0 67.0,29.1 66.0,29.1Z" fill="#7799EE"/>
<path d="M0.0,0.0 63.7,0.0 62.9,1.0 62.0,3.0 58.5,13.0 53.0,25.7 51.7,30.0 51.0,34.0 50.1,42.0 47.0,50.4 46.0,54.5 44.6,62.0 44.4,65.0 44.7,68.0 45.3,71.0 46.2,73.0 47.0,74.1 49.0,76.0 50.4,77.0 52.0,77.7 54.0,78.2 56.0,78.3 58.0,78.0 59.0,77.5 61.0,75.9 63.0,73.6 67.1,66.0 71.2,59.0 73.0,56.5 75.0,54.5 77.0,53.2 79.0,52.8 80.0,52.9 82.0,54.1 85.0,56.6 87.0,59.1 97.0,73.1 102.0,77.9 104.0,79.2 110.0,81.6 116.0,85.2 118.0,85.9 120.0,86.1 122.0,85.8 125.0,84.4 128.0,82.1 133.0,77.3 136.0,75.3 138.0,74.4 140.0,74.1 145.0,74.4 151.0,73.7 153.0,73.7 159.0,74.9 162.0,75.0 163.0,74.6 164.0,73.9 166.0,71.7 167.1,70.0 167.5,69.0 168.0,66.7 168.5,61.0 167.0,45.0 160.4,12.0 159.2,2.0 158.8,0.0 221.0,0.0 221.0,32.5 219.2,38.0 213.6,52.0 209.5,63.0 208.0,65.6 206.6,67.0 205.2,69.0 204.1,71.0 203.4,73.0 202.3,77.0 201.8,80.0 201.1,90.0 200.8,98.0 200.9,101.0 201.2,104.0 202.9,113.0 203.6,115.0 204.5,116.0 208.0,117.7 213.4,121.0 214.6,122.0 216.0,124.0 219.4,130.0 221.0,132.2 221.0,151.1 215.0,153.7 214.0,154.3 213.0,155.4 212.0,157.2 207.4,169.0 204.2,176.0 197.8,185.0 194.0,189.7 187.0,196.2 185.0,197.8 184.0,198.2 181.0,198.5 172.0,197.9 170.0,197.1 168.8,196.0 168.0,194.6 167.4,192.0 165.7,189.0 164.1,187.0 159.0,182.6 156.7,181.0 152.0,178.4 149.0,176.2 147.0,175.1 145.0,174.5 141.0,174.5 140.1,174.0 139.6,173.0 138.0,165.0 136.6,161.0 132.2,153.0 126.8,142.0 122.3,131.0 120.6,126.0 120.0,125.3 119.0,125.1 116.0,125.6 107.0,128.4 106.0,128.8 105.0,129.5 104.0,131.0 103.0,133.2 99.1,145.0 96.2,152.0 94.8,154.0 90.0,157.5 88.0,159.8 86.7,162.0 83.4,169.0 81.0,173.1 80.0,174.1 77.0,176.4 73.0,178.9 66.0,182.7 60.0,187.5 58.0,188.7 56.0,189.7 52.0,191.3 50.0,191.8 46.0,192.0 43.0,191.7 39.0,190.7 35.0,189.5 24.0,184.8 16.5,182.0 13.0,180.9 9.0,179.9 7.0,179.6 4.0,179.6 0.0,180.0 0.0,105.8 5.0,105.1 7.0,104.3 8.0,103.4 9.1,102.0 9.6,101.0 9.7,100.0 9.3,98.0 8.5,96.0 6.0,91.9 4.0,89.4 0.7,87.0 0.0,86.2ZM181.8,214.0 183.0,214.0 184.0,214.4 184.9,215.0 185.6,216.0 185.7,217.0 185.2,218.0 184.0,219.2 183.0,219.5 181.0,219.3 180.0,218.7 179.2,218.0 178.6,217.0 178.6,216.0 179.3,215.0 181.0,214.2Z" fill="#B0E0E6"/>
<path d="M0.0,0.0 55.2,0.0 54.5,3.0 52.1,19.0 46.7,39.0 44.0,51.9 40.7,65.0 39.6,70.0 39.3,74.0 39.7,77.0 41.1,80.0 42.0,81.2 42.9,82.0 46.0,84.1 47.2,85.0 49.0,86.9 50.0,87.5 51.0,87.8 52.0,87.8 53.0,87.6 55.0,86.6 58.4,84.0 61.8,82.0 64.3,80.0 65.9,78.0 67.8,75.0 70.6,70.0 72.4,66.0 74.0,63.7 76.1,61.0 77.0,60.4 78.0,60.2 79.0,60.3 81.0,61.0 82.0,61.8 84.0,64.2 85.9,67.0 87.7,70.0 90.6,76.0 95.0,86.2 97.0,89.2 99.0,91.3 101.0,92.9 104.0,94.5 109.0,96.0 111.0,96.7 116.0,99.4 118.0,100.2 121.0,101.0 122.0,101.0 123.0,100.4 125.0,97.7 127.0,94.2 129.6,89.0 130.8,87.0 131.7,86.0 133.0,85.0 135.0,84.0 146.0,80.2 151.0,79.3 153.0,79.5 154.0,80.0 155.2,82.0 156.0,83.0 157.4,84.0 160.0,85.2 164.0,86.4 166.0,86.8 167.0,86.7 168.0,86.5 169.0,85.9 170.0,85.0 170.7,84.0 171.0,83.0 171.5,80.0 172.5,77.0 173.0,74.9 173.2,72.0 173.0,63.0 170.1,44.0 163.8,12.0 162.0,0.0 221.0,0.0 221.0,10.7 219.9,17.0 215.9,28.0 210.6,46.0 205.9,60.0 204.1,64.0 201.3,68.0 200.2,70.0 199.0,73.3 197.5,79.0 196.7,86.0 195.9,96.0 195.9,101.0 196.1,104.0 198.2,114.0 198.8,116.0 199.2,117.0 200.0,117.9 201.0,118.4 204.0,119.2 205.7,120.0 206.6,121.0 207.3,123.0 207.9,130.0 207.4,144.0 206.9,149.0 205.6,156.0 203.3,165.0 202.3,168.0 200.4,171.0 195.9,177.0 192.0,181.7 191.0,182.6 189.0,183.7 180.0,187.6 177.0,188.4 175.0,188.3 170.0,186.7 167.0,185.2 165.5,184.0 162.0,180.3 160.5,179.0 158.0,177.3 155.4,176.0 154.0,175.0 148.0,166.7 142.0,160.5 138.0,155.3 134.8,150.0 129.5,140.0 128.7,138.0 127.1,131.0 126.8,128.0 126.8,125.0 126.6,122.0 126.0,118.0 125.0,113.6 124.0,110.5 123.0,108.0 122.0,106.5 121.0,106.0 119.0,106.3 117.0,107.2 115.7,108.0 111.0,111.8 107.0,113.9 106.0,114.7 102.0,122.3 101.0,124.9 99.1,131.0 97.2,139.0 94.6,146.0 92.7,152.0 91.4,154.0 90.5,155.0 88.0,157.0 84.5,161.0 82.0,165.4 79.0,169.4 77.0,171.4 75.0,172.6 70.0,175.0 65.0,176.7 63.0,177.5 57.0,181.2 55.0,182.1 49.0,183.8 45.0,183.9 39.0,183.3 32.0,181.0 28.0,179.2 15.0,172.7 10.0,170.7 6.0,169.6 0.0,168.8 0.0,122.3 3.5,121.0 10.0,117.8 14.0,115.3 16.3,113.0 20.7,107.0 23.7,102.0 26.5,94.0 27.0,92.0 27.2,90.0 27.1,89.0 26.7,88.0 26.0,87.4 20.0,85.3 18.0,84.1 17.0,83.2 16.0,81.8 13.0,76.0 8.0,68.7 5.0,65.4 0.0,60.8Z" fill="#20B2AA"/>
<path d="M0.0,0.0 51.5,0.0 49.6,15.0 48.7,21.0 46.0,32.5 43.0,44.3 41.0,51.1 39.0,57.0 37.0,61.8 32.0,69.6 30.8,71.0 29.1,72.0 26.0,72.4 24.0,72.1 21.0,70.5 16.0,67.2 13.5,65.0 5.7,56.0 0.0,50.4ZM164.8,0.0 217.8,0.0 214.3,15.0 207.5,41.0 200.9,61.0 200.1,63.0 197.5,68.0 195.4,74.0 194.3,79.0 192.4,96.0 192.1,101.0 192.5,105.0 193.4,109.0 196.0,117.0 198.0,119.9 199.0,120.7 200.0,121.0 202.0,121.1 203.0,121.5 203.7,122.0 204.3,123.0 204.5,124.0 205.1,130.0 205.2,136.0 205.0,142.0 204.3,148.0 203.0,155.0 202.0,158.1 198.0,166.6 194.1,173.0 191.9,176.0 190.0,177.5 188.0,178.6 180.0,181.7 178.0,182.4 176.0,182.3 173.0,181.6 169.0,180.2 167.0,179.0 164.0,176.2 159.0,172.2 156.6,170.0 155.0,168.0 152.0,163.6 148.0,158.2 146.1,156.0 141.0,153.0 140.0,152.1 137.0,148.9 136.3,148.0 134.6,145.0 132.5,140.0 131.8,139.0 131.4,138.0 129.6,130.0 128.3,121.0 127.9,117.0 127.6,111.0 127.9,107.0 128.4,104.0 129.6,101.0 133.0,93.9 135.1,90.0 136.0,88.7 137.0,87.8 138.8,87.0 143.0,86.2 146.0,85.8 148.0,85.9 150.0,86.4 151.0,87.0 155.0,89.9 158.0,91.1 162.0,92.0 166.0,91.8 169.0,91.0 170.0,90.4 172.9,88.0 173.8,87.0 175.0,85.0 176.7,81.0 177.4,78.0 177.6,75.0 176.3,64.0 167.0,14.0ZM77.3,68.0 78.0,67.8 79.0,67.9 80.0,68.5 82.0,70.5 84.4,74.0 88.1,82.0 89.8,87.0 95.5,97.0 96.6,100.0 97.1,102.0 97.2,104.0 96.8,115.0 96.8,123.0 96.5,126.0 94.8,137.0 93.8,140.0 92.1,144.0 91.5,146.0 91.1,150.0 90.7,152.0 89.4,154.0 87.0,156.1 85.4,157.0 84.0,158.3 79.0,164.5 75.0,168.1 73.0,169.1 70.0,170.3 65.0,171.7 63.0,172.5 57.0,176.0 55.0,176.9 52.0,177.7 48.0,178.3 46.0,178.2 43.0,177.6 39.0,176.6 36.0,175.5 32.0,173.5 28.0,171.1 18.0,164.0 12.0,160.2 9.0,158.8 6.0,157.8 0.0,156.8 0.0,133.0 4.0,132.1 6.0,131.4 9.0,129.9 14.0,126.6 15.0,125.9 18.4,122.0 20.4,120.0 26.0,115.4 34.2,109.0 41.0,102.8 43.0,101.5 51.0,97.5 54.8,95.0 56.6,93.0 59.5,88.0 61.2,86.0 63.0,84.7 68.7,82.0 70.0,80.9 75.3,73.0 75.9,72.0 76.6,69.0 77.0,68.2Z" fill="#BCEE68"/>
<path d="M0.0,0.0 48.3,0.0 47.6,7.0 47.0,11.0 46.7,14.0 45.7,20.0 42.8,33.0 40.7,39.0 37.4,47.0 35.3,51.0 33.0,53.6 26.0,59.7 24.0,60.3 22.0,59.8 18.0,57.7 15.0,55.7 12.3,53.0 7.0,45.9 1.4,39.0 0.0,36.9ZM167.7,0.0 213.3,0.0 212.0,4.0 210.6,11.0 210.0,12.7 208.6,19.0 208.0,20.8 207.6,23.0 203.5,38.0 203.0,39.0 201.5,44.0 201.0,45.1 200.5,47.0 200.0,48.0 199.5,50.0 199.0,51.0 198.5,53.0 198.0,54.0 197.5,56.0 197.0,57.0 195.8,61.0 193.3,67.0 191.0,72.0 189.9,75.0 189.0,79.0 188.8,86.0 188.6,89.0 186.9,96.0 186.2,100.0 186.3,102.0 187.1,105.0 187.9,107.0 190.4,112.0 192.9,118.0 197.0,122.1 200.3,124.0 201.0,125.0 201.4,126.0 202.3,139.0 201.6,144.0 201.0,146.7 199.8,154.0 199.6,155.0 198.7,157.0 194.0,164.0 191.6,168.0 188.8,172.0 186.0,174.6 184.0,175.7 180.0,176.2 179.0,176.2 177.0,175.9 174.0,174.8 169.0,172.4 160.0,167.5 158.1,166.0 156.4,164.0 151.4,157.0 151.0,156.0 149.2,153.0 148.2,152.0 146.6,151.0 143.0,149.7 141.0,148.7 139.0,146.9 138.2,146.0 137.2,144.0 133.4,136.0 133.0,134.0 132.7,133.0 131.3,127.0 131.0,125.0 130.5,123.0 130.1,120.0 130.0,117.0 130.2,111.0 130.6,108.0 131.2,105.0 132.7,102.0 135.2,98.0 137.0,95.8 140.0,93.3 141.0,92.7 143.0,91.8 145.0,91.5 150.0,92.4 152.0,93.2 155.0,95.4 158.0,97.9 160.0,99.0 162.0,99.5 163.0,100.0 167.0,100.5 173.4,100.0 177.0,98.9 178.5,98.0 180.0,96.6 181.1,95.0 182.0,92.3 182.4,86.0 183.0,81.8 183.0,78.0 182.0,74.1 180.7,71.0 180.1,69.0 179.0,61.0 178.4,59.0 177.0,51.0 176.4,49.0 176.0,46.0 175.4,44.0 175.0,41.0 174.4,39.0 174.0,35.9 172.3,28.0 171.0,19.4 170.3,16.0 170.0,13.0 169.5,11.0 169.0,6.7 168.0,1.0ZM77.1,78.0 78.0,77.3 79.0,77.2 80.0,78.0 81.7,80.0 83.0,82.2 85.7,86.0 90.7,95.0 91.5,97.0 92.6,101.0 93.5,106.0 93.9,109.0 93.9,112.0 93.9,121.0 93.7,126.0 93.0,130.0 92.7,133.0 91.8,137.0 90.7,141.0 88.9,146.0 88.8,151.0 88.6,152.0 87.9,153.0 87.0,153.8 82.0,155.9 80.5,158.0 79.0,159.5 78.0,159.9 77.0,160.0 72.5,160.0 70.0,160.9 66.0,164.5 63.0,166.8 57.0,170.6 55.0,171.4 53.0,171.8 48.0,172.3 44.0,171.6 38.0,169.8 36.0,168.8 34.0,167.4 30.0,164.5 28.2,163.0 25.4,160.0 17.2,150.0 16.5,149.0 15.6,147.0 14.9,144.0 14.8,143.0 15.5,140.0 18.3,134.0 21.5,129.0 24.0,126.1 32.0,118.3 40.0,112.3 44.0,110.4 48.0,109.0 49.0,108.4 50.2,108.0 52.9,106.0 54.0,104.4 55.4,101.0 56.0,100.0 56.4,99.0 58.6,96.0 63.0,91.3 66.5,88.0 67.1,87.0 68.0,86.1 70.2,85.0 71.7,84.0 76.0,79.0Z" fill="#94C23C"/>
<path d="M0.0,0.0 46.1,0.0 44.6,12.0 43.0,20.6 42.0,25.0 39.0,34.0 36.0,40.6 35.0,42.2 33.0,44.4 30.0,47.1 27.0,49.6 25.0,50.8 24.0,51.1 23.0,51.0 21.0,50.2 17.0,47.9 14.0,45.7 11.0,42.5 6.0,36.4 0.0,27.8ZM169.2,0.0 211.1,0.0 210.0,3.3 204.6,24.0 198.4,43.0 193.2,57.0 189.6,66.0 189.0,67.1 188.0,68.3 187.0,69.1 186.0,69.5 185.0,69.2 184.7,69.0 184.0,68.2 183.5,67.0 182.7,63.0 181.0,57.3 177.3,43.0 173.7,27.0 170.0,3.9ZM77.6,82.0 78.0,81.9 79.0,82.3 81.0,84.3 82.0,85.5 83.6,88.0 87.5,95.0 88.7,98.0 91.0,107.2 91.5,110.0 92.0,123.0 91.3,130.0 90.3,136.0 89.1,141.0 87.4,146.0 86.7,151.0 86.2,152.0 85.0,152.8 82.0,154.2 79.0,156.3 78.0,156.7 77.0,156.7 74.0,156.0 72.0,155.8 70.0,156.2 69.0,156.6 67.0,158.1 63.5,162.0 62.0,163.4 57.0,167.0 55.0,167.9 51.0,168.5 48.0,168.6 45.0,167.9 40.0,166.4 38.0,165.3 36.0,163.8 33.0,161.5 31.5,160.0 26.3,153.0 23.0,147.3 22.3,145.0 22.1,141.0 22.8,137.0 24.0,133.0 25.0,131.0 27.0,128.3 28.0,127.3 30.0,125.8 33.0,122.9 35.0,121.3 43.0,115.4 45.0,114.4 52.0,111.5 54.0,110.3 55.0,109.3 56.2,108.0 57.0,106.6 58.7,101.0 59.5,99.0 60.6,97.0 62.1,95.0 67.0,90.2 69.0,88.0 73.3,85.0 76.0,82.8 77.0,82.1ZM143.8,96.0 145.0,95.8 147.0,95.8 150.0,96.8 152.0,98.0 158.0,102.9 160.9,104.0 166.0,105.1 173.0,104.9 176.0,105.1 179.0,105.8 181.0,106.7 184.0,108.9 185.9,111.0 187.7,114.0 189.6,118.0 190.5,119.0 194.9,122.0 196.7,124.0 197.4,125.0 198.1,127.0 198.6,132.0 199.4,137.0 199.5,139.0 199.3,141.0 196.8,154.0 196.0,155.7 195.1,157.0 188.0,165.8 186.0,167.7 185.0,168.2 183.0,168.7 176.0,169.6 173.0,169.8 172.0,169.6 170.0,168.9 162.0,165.0 160.0,163.6 157.8,161.0 154.4,156.0 151.9,151.0 150.4,149.0 148.7,148.0 143.0,146.3 141.0,145.4 139.5,144.0 138.0,141.6 135.0,136.0 134.0,132.3 132.6,126.0 132.0,122.0 131.8,119.0 132.0,115.6 133.4,107.0 134.0,105.1 134.6,104.0 137.0,100.9 139.7,98.0 141.3,97.0Z" fill="#F5E4BE"/>
<path d="M0.0,0.0 43.7,0.0 41.6,13.0 40.8,17.0 38.5,24.0 36.2,30.0 34.7,33.0 33.0,35.1 28.0,39.7 26.0,41.2 25.0,41.8 24.0,42.0 22.0,41.7 17.0,39.2 14.0,37.3 11.0,34.4 6.0,28.7 0.0,19.5ZM170.2,0.0 209.6,0.0 203.4,22.0 196.4,42.0 193.0,50.8 191.0,55.1 189.0,58.2 188.0,59.1 187.0,59.5 186.0,59.1 185.0,58.0 184.0,56.3 178.7,42.0 174.7,27.0ZM74.4,87.0 76.0,86.4 77.0,86.3 78.0,86.5 79.0,87.2 80.0,88.6 83.7,96.0 85.0,99.0 86.4,103.0 88.6,111.0 89.4,119.0 89.5,123.0 89.3,126.0 88.4,135.0 87.0,141.0 86.0,144.0 85.0,146.3 83.5,149.0 82.0,150.8 81.0,151.5 80.0,152.0 78.0,152.4 76.0,152.2 71.0,151.1 69.0,151.5 67.9,152.0 66.0,153.6 61.0,159.1 58.0,161.5 55.7,163.0 53.0,163.8 50.0,164.1 47.0,163.7 44.0,162.8 42.0,161.9 40.0,160.7 36.4,158.0 33.3,154.0 30.9,150.0 29.3,145.0 28.6,141.0 29.1,135.0 29.9,132.0 31.0,130.0 33.0,127.2 35.0,125.5 40.6,122.0 46.0,118.3 48.0,117.4 54.5,115.0 56.0,114.1 57.0,113.2 58.0,112.0 59.0,110.3 63.1,100.0 65.2,96.0 71.0,89.2ZM142.8,102.0 144.0,101.5 146.0,101.3 148.0,101.5 150.0,102.0 152.0,103.0 157.0,106.7 159.0,107.6 161.0,108.1 166.0,108.9 171.0,108.6 174.0,108.7 176.0,109.0 178.0,109.6 180.0,110.6 182.0,112.3 183.3,114.0 185.6,118.0 186.5,119.0 188.0,120.0 192.0,122.1 193.3,123.0 194.0,123.9 194.7,126.0 195.0,130.2 196.1,137.0 196.2,139.0 194.1,151.0 193.5,153.0 193.0,154.0 186.4,162.0 185.0,163.4 184.0,164.1 182.0,164.7 174.0,165.9 172.0,165.9 169.0,164.6 164.0,161.8 161.7,160.0 157.0,153.3 154.0,147.1 153.0,145.8 152.0,145.1 150.0,144.3 144.0,142.6 142.5,142.0 141.0,140.8 139.0,138.2 137.1,135.0 136.0,131.0 135.0,126.0 134.8,124.0 134.9,119.0 135.3,116.0 137.1,108.0 138.0,106.6 139.0,105.4 141.0,103.5Z" fill="#DEB887"/>
<path d="M0.0,0.0 41.5,0.0 39.6,11.0 38.7,15.0 35.3,24.0 34.0,26.9 33.0,28.3 31.0,30.4 27.0,33.9 25.0,35.1 24.0,35.3 23.0,35.2 21.0,34.4 16.0,31.4 14.0,29.9 10.0,25.8 6.0,21.0 1.1,13.0 0.0,9.8ZM170.9,0.0 208.5,0.0 206.3,8.0 202.3,21.0 196.0,38.2 191.0,49.9 190.0,51.4 189.0,52.5 188.0,53.0 186.9,53.0 186.0,52.5 185.0,51.4 181.0,43.9 179.8,41.0 175.6,27.0ZM75.0,92.0 76.0,92.0 77.0,92.4 78.0,93.4 80.0,96.4 83.2,102.0 84.5,106.0 86.7,116.0 86.9,118.0 86.8,122.0 86.7,126.0 86.3,131.0 85.6,135.0 83.4,142.0 82.1,144.0 81.0,145.3 79.1,147.0 78.0,147.6 77.0,147.8 75.0,147.8 69.0,146.8 67.1,147.0 66.0,147.5 64.0,149.4 59.4,155.0 57.0,156.8 54.0,158.6 52.0,159.2 49.0,159.2 47.0,158.9 45.0,158.2 42.0,156.5 40.0,154.9 36.8,151.0 35.5,149.0 35.0,148.0 33.7,143.0 33.2,140.0 33.7,134.0 34.6,131.0 35.7,129.0 37.0,127.4 40.6,125.0 49.0,120.6 55.0,118.9 57.0,118.1 59.0,116.5 60.0,115.3 60.8,114.0 63.6,107.0 67.3,100.0 69.0,97.6 72.0,94.2 74.0,92.4ZM144.4,107.0 146.0,106.3 147.0,106.2 150.0,106.7 152.7,108.0 158.0,111.5 160.0,112.1 165.0,112.5 173.0,112.1 176.0,112.6 178.0,113.5 179.0,114.3 180.0,115.4 181.8,118.0 182.7,119.0 186.0,121.0 189.8,123.0 191.0,124.0 191.5,125.0 191.8,126.0 193.0,138.0 192.7,141.0 191.2,149.0 190.6,151.0 189.4,153.0 184.5,159.0 183.0,160.5 182.0,161.1 180.0,161.6 173.0,162.3 171.0,161.8 168.0,160.1 164.8,158.0 162.9,156.0 159.6,151.0 158.5,149.0 156.4,144.0 155.8,143.0 155.0,142.2 153.0,141.2 145.6,139.0 144.0,137.9 142.0,135.4 140.5,133.0 139.3,129.0 138.3,124.0 138.2,119.0 138.5,117.0 139.3,114.0 140.9,110.0 142.0,108.7Z" fill="#FFE100"/>
<path d="M3.3,0.0 39.5,0.0 37.3,12.0 34.0,20.3 33.0,22.3 32.0,23.7 30.0,25.6 27.0,28.1 25.0,29.2 24.0,29.4 23.0,29.2 21.0,28.1 15.7,24.0 14.0,22.4 13.0,21.0 8.3,13.0 7.4,11.0 5.0,3.7 4.0,1.2ZM171.6,0.0 207.5,0.0 205.4,8.0 202.0,17.9 196.0,33.7 191.0,44.6 189.4,47.0 189.0,47.5 188.0,48.0 187.0,48.0 186.0,47.4 184.0,45.0 182.0,42.1 181.0,40.2 180.0,37.6 177.0,28.9 176.0,24.9ZM74.0,98.0 75.0,97.5 76.0,97.5 77.0,98.0 79.0,100.3 81.0,103.5 81.7,105.0 82.3,107.0 84.5,117.0 84.6,119.0 84.4,124.0 83.6,130.0 82.6,134.0 80.7,139.0 80.0,140.2 79.0,141.3 77.0,143.0 76.0,143.5 75.0,143.7 73.0,143.7 67.0,142.6 66.0,142.6 64.7,143.0 63.2,144.0 62.0,145.2 57.0,151.2 55.0,152.6 53.0,153.6 51.0,154.3 50.0,154.4 47.0,154.0 45.0,153.3 43.0,151.8 40.0,148.3 38.8,146.0 37.8,143.0 37.2,140.0 37.1,138.0 37.5,134.0 38.4,131.0 39.6,129.0 40.4,128.0 42.0,126.7 44.0,125.7 51.0,123.1 58.0,121.2 59.9,120.0 61.1,119.0 62.0,118.0 63.0,116.3 65.7,109.0 69.0,102.6 71.0,100.3ZM145.9,112.0 148.0,111.5 150.0,111.8 152.0,112.7 157.0,115.5 160.0,116.7 162.0,116.8 171.0,115.3 173.0,115.3 175.0,115.8 177.0,116.9 180.4,120.0 182.0,121.0 185.0,122.5 187.1,124.0 188.0,125.0 188.6,126.0 189.0,127.8 189.9,137.0 189.9,139.0 189.4,142.0 188.1,148.0 187.3,150.0 186.0,151.9 183.0,155.4 181.0,157.4 180.0,157.9 178.0,158.3 175.0,158.6 173.0,158.6 171.0,157.9 169.0,156.7 166.0,154.3 164.0,151.8 161.0,146.3 158.6,140.0 158.0,138.9 157.0,137.7 156.0,137.0 155.0,136.5 153.0,136.1 150.0,136.0 148.0,135.4 147.0,134.9 145.0,133.0 144.0,131.7 143.1,130.0 142.0,126.9 141.3,124.0 141.0,120.0 141.0,119.0 141.6,117.0 143.0,114.1 144.0,113.0Z" fill="#FFA500"/>
<path d="M7.5,0.0 37.7,0.0 36.2,8.0 35.4,11.0 33.0,16.0 31.0,19.4 30.0,20.5 28.0,22.1 26.0,23.3 25.0,23.6 24.0,23.7 23.0,23.4 21.0,22.3 19.0,20.8 17.1,19.0 16.3,18.0 11.9,11.0 10.5,8.0ZM172.2,0.0 206.4,0.0 206.0,2.1 204.0,9.0 200.0,19.8 195.0,31.9 192.0,37.8 190.0,41.2 189.0,42.4 188.0,43.0 187.0,43.1 186.0,42.7 185.0,41.9 183.0,39.8 182.0,38.3 181.0,36.2 178.0,28.8 177.0,25.7ZM73.3,103.0 75.0,102.2 76.0,102.4 77.0,103.2 79.0,106.0 80.0,108.3 82.1,117.0 82.2,121.0 81.7,125.0 80.3,131.0 79.2,134.0 78.2,136.0 76.5,138.0 75.0,139.1 74.0,139.5 72.0,139.7 65.0,138.5 63.0,138.7 62.0,139.2 60.0,140.9 55.9,146.0 54.8,147.0 53.0,148.2 51.0,149.2 50.0,149.3 48.0,149.2 46.0,148.4 44.4,147.0 42.9,145.0 41.9,143.0 41.2,140.0 40.9,137.0 41.3,134.0 41.8,132.0 42.8,130.0 44.0,128.7 46.0,127.6 53.0,125.5 59.0,124.2 61.0,123.3 63.0,121.7 64.0,120.7 65.0,119.0 67.0,112.9 70.0,106.7 71.1,105.0 72.0,104.0ZM146.5,117.0 148.0,116.6 149.0,116.8 151.0,117.8 152.4,119.0 153.0,120.0 153.3,121.0 153.4,122.0 153.1,124.0 151.6,128.0 150.2,130.0 149.0,130.6 148.0,130.5 147.3,130.0 146.0,128.3 145.0,126.0 144.3,123.0 144.1,121.0 144.5,119.0 145.2,118.0ZM168.2,120.0 170.0,119.4 172.0,119.0 174.0,119.2 176.0,119.9 179.0,121.7 181.6,123.0 183.0,124.0 184.6,126.0 185.8,129.0 186.5,133.0 186.9,139.0 186.6,141.0 185.2,146.0 184.5,148.0 183.1,150.0 180.0,152.9 178.0,154.2 176.0,154.6 173.0,154.4 171.0,153.5 168.0,151.0 166.4,149.0 163.8,144.0 162.2,140.0 160.8,136.0 160.5,134.0 160.5,131.0 161.0,129.0 162.7,125.0 163.8,123.0 164.8,122.0Z" fill="#FF4500"/>
<path d="M11.0,0.0 35.8,0.0 35.3,3.0 34.0,7.8 33.1,10.0 32.0,11.9 30.0,14.9 28.0,17.0 26.0,18.2 25.0,18.5 24.0,18.6 22.0,17.9 20.0,16.6 19.0,15.7 17.0,13.0 13.9,8.0ZM172.9,0.0 205.1,0.0 204.0,4.9 203.0,8.0 197.0,24.0 193.0,32.0 190.0,36.3 189.0,37.4 188.0,38.1 187.0,38.3 186.0,38.1 185.0,37.6 183.0,35.6 181.0,32.1 178.2,26.0 175.0,11.8ZM73.0,110.0 74.0,109.5 75.0,109.6 76.0,110.5 77.4,113.0 78.3,115.0 78.7,117.0 79.0,119.0 79.0,122.0 78.5,125.0 77.0,128.9 75.6,132.0 75.0,132.8 74.0,133.6 73.0,134.0 72.0,134.0 71.0,133.6 70.0,132.8 69.0,131.4 68.3,130.0 67.6,127.0 67.4,123.0 68.1,119.0 69.4,115.0 71.0,112.3ZM171.0,124.0 173.0,123.5 174.0,123.5 176.0,124.1 179.0,125.6 180.4,127.0 182.0,129.7 183.0,132.0 183.5,134.0 183.8,138.0 183.6,140.0 182.0,144.3 181.0,146.2 180.0,147.5 178.0,149.2 176.0,150.2 175.0,150.3 173.0,149.9 171.3,149.0 170.0,147.9 168.0,145.2 166.8,143.0 165.0,138.8 164.2,136.0 164.0,134.0 164.1,132.0 165.0,129.6 166.0,128.0 167.7,126.0 169.0,125.0ZM48.7,132.0 51.0,131.6 53.7,132.0 55.0,132.7 55.5,134.0 55.2,136.0 54.3,138.0 53.0,139.6 52.0,140.5 51.0,141.1 50.0,141.3 49.0,141.1 48.0,140.4 47.0,138.9 46.4,137.0 46.2,135.0 46.4,134.0 47.1,133.0Z" fill="#B22222"/>
<path d="M14.4,0.0 33.4,0.0 33.1,2.0 32.0,5.0 31.0,7.0 30.0,8.5 28.0,10.9 27.0,11.7 25.0,12.6 24.0,12.7 22.0,12.1 21.0,11.4 18.0,8.1 17.0,6.7 16.0,4.8ZM173.6,0.0 202.9,0.0 202.6,2.0 201.3,7.0 196.0,23.0 192.0,30.2 191.0,31.4 189.0,32.9 187.0,33.5 186.0,33.3 185.0,32.9 183.0,30.8 180.0,26.2 179.4,25.0 178.7,23.0 175.6,11.0 174.0,3.0ZM72.1,117.0 73.0,116.5 74.0,116.6 75.2,118.0 75.9,120.0 75.8,122.0 75.0,124.0 74.0,125.0 73.0,125.3 72.0,124.9 71.0,123.3 70.6,122.0 70.6,121.0 71.0,119.0ZM171.9,130.0 174.0,129.6 175.0,129.7 177.0,130.5 179.0,132.1 180.0,133.8 180.3,135.0 180.4,137.0 180.3,138.0 179.2,141.0 178.0,142.9 177.0,144.0 176.0,144.9 175.0,145.3 174.0,145.4 173.0,145.0 172.0,144.2 171.0,143.0 169.0,139.3 167.8,136.0 167.7,134.0 168.1,133.0 169.0,131.8 169.9,131.0Z" fill="#FFB6C1"/>
<path d="M19.1,0.0 29.1,0.0 28.7,2.0 27.0,3.9 26.0,4.8 24.0,5.1 23.0,4.9 21.0,3.4 19.3,1.0ZM174.2,0.0 200.1,0.0 199.8,3.0 199.0,5.6 198.5,9.0 198.0,10.3 197.6,13.0 197.0,14.6 196.6,17.0 196.0,18.0 195.7,20.0 194.6,23.0 192.7,26.0 191.0,28.0 189.0,29.8 187.0,29.9 186.0,29.6 185.0,28.8 183.3,27.0 180.3,23.0 180.0,21.9 179.5,21.0 179.0,19.0 178.4,18.0 178.0,16.3 177.3,15.0 176.9,13.0 176.4,12.0 176.0,9.7 175.4,8.0 175.0,4.7 174.4,3.0Z" fill="#FF1493"/>
<path d="M220.8,194.6H218.7V199.3H216.3V203.5H214.2L213.8,213.8H211.4V218L206.9,218.7L205.5,220.4V221.9H220.8z" fill="#fff"/>
</g>
<rect x="0" y="0" width="220.8" height="221.9" fill="none" stroke="#000" stroke-width="1.2"/>
<path d="M0.0,0v-6.0M0.0,221.9v6.0M12.3,0v-2.8M12.3,221.9v2.8M24.5,0v-2.8M24.5,221.9v2.8M36.8,0v-6.0M36.8,221.9v6.0M49.1,0v-2.8M49.1,221.9v2.8M61.3,0v-2.8M61.3,221.9v2.8M73.6,0v-6.0M73.6,221.9v6.0M85.9,0v-2.8M85.9,221.9v2.8M98.1,0v-2.8M98.1,221.9v2.8M110.4,0v-6.0M110.4,221.9v6.0M122.7,0v-2.8M122.7,221.9v2.8M134.9,0v-2.8M134.9,221.9v2.8M147.2,0v-6.0M147.2,221.9v6.0M159.5,0v-2.8M159.5,221.9v2.8M171.7,0v-2.8M171.7,221.9v2.8M184.0,0v-6.0M184.0,221.9v6.0M196.3,0v-2.8M196.3,221.9v2.8M208.5,0v-2.8M208.5,221.9v2.8M220.8,0v-6.0M220.8,221.9v6.0M0,0.0h-6.3M0,32.3h-6.3M0,53.6h-6.3M0,76.2h-6.3M0,101.8h-6.3M0,120.1h-6.3M0,134.2h-6.3M0,145.7h-6.3M0,163.9h-6.3M0,178.0h-6.3M0,199.3h-6.3M0,211.6h-6.3M0,221.9h-6.3M220.8,38.9h6M220.8,78.4h6M220.8,118.0h6M220.8,156.3h6M220.8,190.8h6" stroke="#000" stroke-width="1.1" fill="none"/>
<text x="-10.8" y="3.2" font-size="9.0" text-anchor="end">30</text>
<text x="-10.8" y="35.5" font-size="9.0" text-anchor="end">50</text>
<text x="-10.8" y="56.8" font-size="9.0" text-anchor="end">70</text>
<text x="-10.8" y="79.4" font-size="9.0" text-anchor="end">100</text>
<text x="-10.8" y="105.0" font-size="9.0" text-anchor="end">150</text>
<text x="-10.8" y="123.3" font-size="9.0" text-anchor="end">200</text>
<text x="-10.8" y="137.4" font-size="9.0" text-anchor="end">250</text>
<text x="-10.8" y="148.9" font-size="9.0" text-anchor="end">300</text>
<text x="-10.8" y="167.1" font-size="9.0" text-anchor="end">400</text>
<text x="-10.8" y="181.2" font-size="9.0" text-anchor="end">500</text>
<text x="-10.8" y="202.5" font-size="9.0" text-anchor="end">700</text>
<text x="-10.8" y="214.8" font-size="9.0" text-anchor="end">850</text>
<text x="-10.8" y="225.1" font-size="9.0" text-anchor="end">1000</text>
<text x="232.1" y="42.2" font-size="9.3" text-anchor="start">20</text>
<text x="232.1" y="81.7" font-size="9.3" text-anchor="start">16</text>
<text x="232.1" y="121.3" font-size="9.3" text-anchor="start">12</text>
<text x="232.1" y="159.6" font-size="9.3" text-anchor="start">8</text>
<text x="232.1" y="194.1" font-size="9.3" text-anchor="start">4</text>
<text x="0.0" y="239.5" font-size="9.0" text-anchor="middle">90N</text>
<text x="36.8" y="239.5" font-size="9.0" text-anchor="middle">60N</text>
<text x="73.6" y="239.5" font-size="9.0" text-anchor="middle">30N</text>
<text x="110.4" y="239.5" font-size="9.0" text-anchor="middle">0</text>
<text x="147.2" y="239.5" font-size="9.0" text-anchor="middle">30S</text>
<text x="184.0" y="239.5" font-size="9.0" text-anchor="middle">60S</text>
<text x="220.8" y="239.5" font-size="9.0" text-anchor="middle">90S</text>
<text x="0.6" y="-9.4" font-size="12.3" text-anchor="start" textLength="113.7" lengthAdjust="spacingAndGlyphs">Transient eddy KE</text>
<text font-size="12.3"><tspan x="184.7" y="-9.4" textLength="10.2" lengthAdjust="spacingAndGlyphs">m</tspan><tspan x="196.0" y="-14.8" font-size="8.2" textLength="4.6" lengthAdjust="spacingAndGlyphs">2</tspan><tspan x="201.0" y="-8.0" font-size="17.5" rotate="12" stroke-width="0">/</tspan><tspan x="210.9" y="-9.4" textLength="5.8" lengthAdjust="spacingAndGlyphs">s</tspan><tspan x="216.7" y="-14.8" font-size="8.2" textLength="4.6" lengthAdjust="spacingAndGlyphs">2</tspan></text>
<text x="110.7" y="-29.3" font-size="14.6" text-anchor="middle" textLength="162.0" lengthAdjust="spacingAndGlyphs">Control (yrs 123&#8722;141)</text>
<text x="-41.3" y="110.5" font-size="12.5" text-anchor="middle" textLength="100.0" lengthAdjust="spacingAndGlyphs" transform="rotate(-90 -41.3 110.5)">Pressure (mb)</text>
<text x="260.6" y="110.5" font-size="12.5" text-anchor="middle" textLength="82.0" lengthAdjust="spacingAndGlyphs" transform="rotate(-90 260.6 110.5)">Height (km)</text>
</g>
<g transform="translate(255.9,527.7)">
<g clip-path="url(#cp)"><rect x="0" y="0" width="220.8" height="221.9" fill="#9370DB"/>
<path d="M0.0,0.0 221.0,0.0 221.0,222.0 0.0,222.0Z" fill="#0000CD"/>
<path d="M0.0,0.0 221.0,0.0 221.0,222.0 0.0,222.0Z" fill="#4169E1"/>
<path d="M0.0,0.0 221.0,0.0 221.0,222.0 0.0,222.0Z" fill="#7799EE"/>
<path d="M0.0,0.0 22.8,0.0 22.7,2.0 23.2,14.0 24.8,27.0 27.0,37.4 28.0,39.8 29.0,41.1 30.0,40.1 31.0,38.3 31.4,37.0 33.6,26.0 35.3,12.0 35.9,2.0 35.8,0.0 221.0,0.0 221.0,222.0 0.0,222.0Z" fill="#B0E0E6"/>
<path d="M0.0,0.0 21.2,0.0 21.5,19.0 22.8,38.0 25.0,51.3 27.3,58.0 28.0,59.1 29.0,59.7 30.0,59.4 31.0,58.4 32.0,56.2 34.9,43.0 36.9,27.0 37.7,12.0 38.1,0.0 221.0,0.0 221.0,222.0 0.0,222.0Z" fill="#20B2AA"/>
<path d="M0.0,0.0 19.8,0.0 19.5,27.0 20.4,50.0 22.4,64.0 23.0,66.9 26.4,77.0 27.0,78.3 27.6,79.0 29.0,79.9 30.0,79.6 30.6,79.0 32.0,77.3 32.7,76.0 36.0,64.0 36.7,61.0 39.0,43.0 40.1,20.0 40.3,0.0 169.3,0.0 169.7,2.0 171.1,7.0 174.0,13.0 175.0,14.6 176.0,15.7 177.0,16.3 178.0,16.5 179.1,16.0 181.4,14.0 182.3,13.0 185.4,6.0 186.8,0.0 196.8,0.0 197.1,2.0 198.0,4.6 199.0,6.8 200.0,6.5 202.0,3.2 202.3,2.0 202.0,0.0 221.0,0.0 221.0,222.0 0.0,222.0Z" fill="#BCEE68"/>
<path d="M0.0,0.0 18.4,0.0 16.7,29.0 16.2,60.0 17.3,80.0 20.1,92.0 21.0,94.3 27.0,101.1 29.0,102.1 31.0,102.8 32.0,102.9 33.2,102.0 36.0,98.6 37.0,97.0 40.0,86.0 40.6,83.0 42.5,60.0 43.3,28.0 43.3,0.0 161.2,0.0 163.9,11.0 167.8,22.0 168.9,24.0 173.0,29.9 177.0,33.1 178.0,33.6 179.0,33.6 184.0,31.6 188.0,29.0 189.0,28.7 190.0,28.9 190.7,30.0 194.8,38.0 195.1,39.0 194.5,41.0 194.7,42.0 195.0,42.2 196.0,42.2 197.0,41.5 200.0,36.4 201.0,33.2 203.8,22.0 206.0,11.6 207.2,0.0 221.0,0.0 221.0,222.0 0.0,222.0ZM35.0,147.7 33.7,150.0 33.0,152.0 32.3,158.0 32.3,160.0 34.0,168.7 35.4,172.0 36.0,172.9 37.0,172.6 39.0,169.5 40.3,163.0 40.6,161.0 40.4,159.0 39.0,152.4 36.3,148.0 36.0,147.6ZM109.0,80.9 104.8,83.0 104.7,84.0 104.9,85.0 104.6,86.0 101.9,91.0 99.0,101.0 98.1,106.0 98.1,107.0 98.8,110.0 98.3,114.0 99.0,115.3 101.0,115.6 102.0,116.4 103.2,118.0 104.4,120.0 105.9,122.0 106.9,123.0 109.2,126.0 110.5,127.0 111.8,129.0 113.0,130.0 114.0,129.7 116.0,127.8 117.0,126.7 117.7,125.0 120.3,115.0 119.9,108.0 120.0,107.0 119.9,106.0 119.1,104.0 118.0,98.3 113.2,85.0 113.4,83.0 113.0,82.6 110.7,81.0 110.0,80.8Z" fill="#94C23C"/>
<path d="M0.0,0.0 17.1,0.0 14.3,28.0 12.0,60.0 11.5,90.0 12.1,103.0 11.9,106.0 13.0,110.0 14.0,113.0 14.6,114.0 17.0,115.7 19.8,118.0 21.0,118.7 25.0,119.6 25.6,120.0 25.9,121.0 26.1,133.0 26.0,134.1 25.3,135.0 21.4,136.0 20.1,137.0 17.6,141.0 16.7,143.0 10.9,165.0 10.0,167.7 6.3,175.0 5.6,176.0 0.0,179.9ZM46.5,0.0 141.4,0.0 143.1,9.0 148.4,20.0 149.7,22.0 157.0,32.2 162.7,45.0 169.4,57.0 175.0,65.0 176.0,66.2 179.0,68.7 180.0,69.4 181.0,69.6 182.0,69.2 185.0,67.6 188.0,65.6 189.0,65.2 190.0,65.5 191.0,66.4 196.9,74.0 198.0,74.6 199.0,74.5 200.0,73.9 201.0,72.5 203.9,60.0 208.7,27.0 210.1,10.0 210.3,4.0 210.6,0.0 221.0,0.0 221.0,222.0 206.3,222.0 206.0,219.1 205.6,218.0 203.9,215.0 205.0,208.9 205.6,207.0 205.9,205.0 206.0,204.0 205.5,202.0 206.0,201.2 206.2,203.0 206.1,205.0 207.0,206.0 208.3,209.0 209.0,209.8 210.0,209.5 211.0,208.7 212.0,207.2 214.0,200.9 214.4,199.0 215.3,191.0 216.9,181.0 217.7,173.0 217.4,167.0 217.4,161.0 216.7,158.0 215.7,155.0 215.6,154.0 216.1,153.0 216.3,152.0 216.0,151.6 215.0,151.4 214.6,152.0 211.4,159.0 210.7,162.0 210.4,165.0 209.5,169.0 206.4,177.0 205.8,179.0 205.2,182.0 205.1,185.0 205.3,187.0 205.1,188.0 206.0,189.7 206.1,191.0 205.1,197.0 205.1,198.0 205.5,200.0 205.0,200.5 204.8,197.0 204.0,195.3 203.9,194.0 204.0,193.0 204.6,192.0 205.0,188.0 204.4,185.0 204.0,184.3 203.7,183.0 203.5,178.0 202.8,173.0 201.0,165.5 200.0,165.1 199.0,168.5 198.0,178.0 198.7,184.0 198.6,188.0 199.1,194.0 198.8,206.0 200.0,213.8 200.7,216.0 200.8,218.0 201.5,220.0 201.9,222.0 181.7,222.0 178.7,208.0 176.2,200.0 175.7,197.0 175.0,196.1 173.9,197.0 173.4,199.0 169.8,207.0 169.0,208.1 166.0,210.7 165.0,211.4 164.0,211.6 163.0,211.4 160.0,210.6 158.0,209.2 154.7,206.0 153.7,204.0 152.6,201.0 152.5,199.0 153.0,197.4 155.6,186.0 156.3,184.0 157.4,182.0 158.3,177.0 161.4,171.0 162.2,169.0 163.5,157.0 163.5,155.0 161.3,140.0 161.0,138.9 159.4,136.0 158.3,133.0 158.0,132.6 156.9,133.0 154.1,139.0 153.6,141.0 152.3,152.0 151.6,165.0 151.3,175.0 150.8,181.0 151.1,187.0 151.1,191.0 150.7,196.0 149.2,205.0 148.7,206.0 148.0,206.7 147.0,207.4 146.0,207.8 145.0,207.8 144.0,207.5 143.0,207.0 142.2,206.0 141.7,204.0 140.7,194.0 140.6,191.0 141.5,176.0 143.8,162.0 144.0,156.0 144.7,148.0 144.7,145.0 143.5,136.0 143.2,135.0 142.4,134.0 136.7,129.0 135.8,128.0 135.0,126.0 132.5,117.0 132.0,115.9 130.8,114.0 130.6,113.0 130.1,112.0 129.7,110.0 129.2,109.0 128.7,107.0 127.0,102.5 124.0,90.4 121.5,77.0 120.9,69.0 120.5,67.0 118.0,63.1 117.0,62.2 115.0,61.3 111.0,60.5 108.0,60.7 104.0,61.6 103.0,62.5 101.0,63.6 100.0,64.7 96.8,71.0 96.0,73.0 93.7,84.0 92.0,97.1 90.7,103.0 89.0,108.9 88.0,109.5 86.0,110.3 84.0,109.9 81.0,111.4 80.3,113.0 79.4,114.0 79.0,114.2 77.0,117.0 75.8,119.0 75.0,121.1 72.0,132.0 69.9,143.0 68.0,159.0 68.5,176.0 69.6,193.0 70.8,205.0 70.6,206.0 70.1,207.0 68.0,210.3 67.0,211.1 66.0,210.9 65.2,209.0 64.0,207.7 63.0,206.0 59.7,199.0 56.3,186.0 54.1,174.0 52.1,156.0 48.7,144.0 41.6,125.0 40.3,121.0 40.3,119.0 40.6,116.0 41.0,115.2 42.3,114.0 43.0,111.0 42.8,110.0 43.9,106.0 45.7,86.0 46.9,60.0 46.9,29.0ZM93.0,31.5 92.5,32.0 92.2,33.0 92.3,34.0 92.9,35.0 94.0,35.6 95.0,35.6 96.0,35.3 96.8,34.0 96.9,33.0 96.6,32.0 96.0,31.4 95.0,31.0 94.0,31.1ZM122.0,29.2 121.0,30.4 120.2,32.0 119.6,34.0 119.8,35.0 120.4,36.0 122.5,38.0 123.0,39.1 124.0,39.3 124.2,38.0 125.3,35.0 125.5,34.0 125.4,33.0 125.0,31.7 123.0,29.1ZM96.4,150.0 97.0,149.5 98.0,149.7 99.0,151.5 101.0,156.0 102.4,166.0 102.2,168.0 100.2,178.0 98.3,183.0 98.0,184.3 97.0,185.3 94.7,178.0 94.1,167.0 94.3,162.0 95.9,151.0ZM84.7,199.0 85.0,199.0 86.0,199.7 88.0,202.0 88.6,204.0 88.9,208.0 88.4,210.0 85.0,216.5 84.0,216.4 82.0,214.2 81.0,212.8 80.5,211.0 80.3,206.0 80.4,204.0 81.0,202.7 84.0,199.2ZM53.4,213.0 54.0,212.5 55.0,212.2 56.0,212.5 57.4,214.0 60.0,216.0 61.0,216.4 62.0,216.3 62.8,216.0 64.0,215.2 65.0,215.0 66.0,217.6 67.1,222.0 51.3,222.0 52.2,215.0 52.6,214.0Z" fill="#F5E4BE"/>
<path d="M0.0,0.0 15.8,0.0 12.5,32.0 10.2,47.0 9.0,52.6 6.0,64.3 3.2,74.0 0.4,82.0 0.2,85.0 0.6,92.0 0.5,94.0 0.0,96.6ZM220.9,25.0 221.0,24.5 221.0,30.9 220.6,28.0ZM71.8,47.0 73.0,46.1 74.0,46.6 76.0,50.3 77.1,62.0 76.0,82.0 74.5,104.0 74.5,105.0 74.8,106.0 73.9,108.0 73.8,109.0 73.0,111.0 72.7,113.0 71.8,116.0 67.0,131.0 66.0,131.9 64.0,132.8 63.0,133.0 62.0,132.8 54.0,127.1 49.0,121.1 48.8,120.0 49.0,118.7 50.0,115.4 51.0,112.9 53.0,110.6 55.0,107.0 55.2,104.0 55.6,102.0 58.7,91.0 67.6,65.0 71.4,48.0ZM144.5,87.0 145.0,86.7 146.0,86.7 150.0,88.6 151.0,89.4 152.0,91.7 154.8,101.0 154.4,114.0 153.2,117.0 152.0,123.2 150.0,127.1 149.0,127.0 147.2,122.0 145.0,117.6 143.6,114.0 141.3,110.0 140.0,108.4 139.6,107.0 138.0,103.0 137.4,101.0 137.5,99.0 139.7,91.0 140.3,90.0 141.0,89.4ZM166.8,92.0 168.0,91.3 169.0,91.1 170.0,91.3 171.0,92.0 174.2,97.0 175.7,99.0 181.0,103.7 182.0,104.4 183.0,104.7 184.0,104.6 190.0,104.0 191.0,104.4 193.0,106.2 195.2,107.0 195.4,111.0 195.9,114.0 197.0,115.9 197.3,118.0 197.0,129.5 194.4,143.0 192.0,148.4 191.5,149.0 191.0,149.3 189.8,149.0 189.1,148.0 188.8,147.0 187.5,145.0 183.5,140.0 182.3,139.0 181.0,138.9 178.0,139.4 176.0,139.5 172.0,138.9 171.0,137.9 166.8,129.0 166.1,127.0 163.2,114.0 162.9,102.0 163.3,100.0 166.0,93.1ZM0.0,129.0 1.0,129.9 2.7,131.0 3.4,132.0 4.0,137.0 3.8,139.0 2.3,145.0 1.5,146.0 0.0,147.4Z" fill="#DEB887"/>
<path d="M0.0,0.0 14.4,0.0 12.6,16.0 10.8,30.0 8.0,42.9 7.0,46.9 4.0,55.7 0.0,63.1ZM170.4,115.0 171.0,114.7 172.0,114.6 173.3,115.0 174.3,116.0 174.9,117.0 175.6,119.0 175.8,121.0 175.3,123.0 174.6,124.0 174.0,124.5 173.0,124.9 172.0,124.9 171.0,124.6 170.0,123.9 169.0,122.2 168.3,120.0 168.2,119.0 168.8,117.0 169.4,116.0Z" fill="#FFE100"/>
<path d="M0.0,0.0 12.9,0.0 12.0,7.6 10.7,16.0 7.6,30.0 4.0,40.9 0.0,49.9Z" fill="#FFA500"/>
<path d="M0.0,0.0 11.6,0.0 10.5,7.0 9.1,14.0 6.6,24.0 3.3,33.0 0.0,39.5Z" fill="#FF4500"/>
<path d="M0.0,0.0 8.7,0.0 7.2,7.0 5.0,13.8 2.3,21.0 0.0,25.5Z" fill="#B22222"/>
<path d="M0.0,0.0 5.3,0.0 5.0,1.9 4.0,5.1 2.5,8.0 0.0,11.4Z" fill="#FFB6C1"/>
<path d="M220.8,193.7H219.2L218.9,199.5L216.4,200.3V202.8L214.3,203.2V213.6L212.2,214.4L211.9,216.9L207.3,218.6L206.9,220.2V221.9H220.8z" fill="#fff"/>
</g>
<rect x="0" y="0" width="220.8" height="221.9" fill="none" stroke="#000" stroke-width="1.2"/>
<path d="M0.0,0v-6.0M0.0,221.9v6.0M12.3,0v-2.8M12.3,221.9v2.8M24.5,0v-2.8M24.5,221.9v2.8M36.8,0v-6.0M36.8,221.9v6.0M49.1,0v-2.8M49.1,221.9v2.8M61.3,0v-2.8M61.3,221.9v2.8M73.6,0v-6.0M73.6,221.9v6.0M85.9,0v-2.8M85.9,221.9v2.8M98.1,0v-2.8M98.1,221.9v2.8M110.4,0v-6.0M110.4,221.9v6.0M122.7,0v-2.8M122.7,221.9v2.8M134.9,0v-2.8M134.9,221.9v2.8M147.2,0v-6.0M147.2,221.9v6.0M159.5,0v-2.8M159.5,221.9v2.8M171.7,0v-2.8M171.7,221.9v2.8M184.0,0v-6.0M184.0,221.9v6.0M196.3,0v-2.8M196.3,221.9v2.8M208.5,0v-2.8M208.5,221.9v2.8M220.8,0v-6.0M220.8,221.9v6.0M0,0.0h-6.3M0,32.3h-6.3M0,53.6h-6.3M0,76.2h-6.3M0,101.8h-6.3M0,120.1h-6.3M0,134.2h-6.3M0,145.7h-6.3M0,163.9h-6.3M0,178.0h-6.3M0,199.3h-6.3M0,211.6h-6.3M0,221.9h-6.3M220.8,38.9h6M220.8,78.4h6M220.8,118.0h6M220.8,156.3h6M220.8,190.8h6" stroke="#000" stroke-width="1.1" fill="none"/>
<text x="-10.8" y="3.2" font-size="9.0" text-anchor="end">30</text>
<text x="-10.8" y="35.5" font-size="9.0" text-anchor="end">50</text>
<text x="-10.8" y="56.8" font-size="9.0" text-anchor="end">70</text>
<text x="-10.8" y="79.4" font-size="9.0" text-anchor="end">100</text>
<text x="-10.8" y="105.0" font-size="9.0" text-anchor="end">150</text>
<text x="-10.8" y="123.3" font-size="9.0" text-anchor="end">200</text>
<text x="-10.8" y="137.4" font-size="9.0" text-anchor="end">250</text>
<text x="-10.8" y="148.9" font-size="9.0" text-anchor="end">300</text>
<text x="-10.8" y="167.1" font-size="9.0" text-anchor="end">400</text>
<text x="-10.8" y="181.2" font-size="9.0" text-anchor="end">500</text>
<text x="-10.8" y="202.5" font-size="9.0" text-anchor="end">700</text>
<text x="-10.8" y="214.8" font-size="9.0" text-anchor="end">850</text>
<text x="-10.8" y="225.1" font-size="9.0" text-anchor="end">1000</text>
<text x="232.1" y="42.2" font-size="9.3" text-anchor="start">20</text>
<text x="232.1" y="81.7" font-size="9.3" text-anchor="start">16</text>
<text x="232.1" y="121.3" font-size="9.3" text-anchor="start">12</text>
<text x="232.1" y="159.6" font-size="9.3" text-anchor="start">8</text>
<text x="232.1" y="194.1" font-size="9.3" text-anchor="start">4</text>
<text x="0.0" y="239.5" font-size="9.0" text-anchor="middle">90N</text>
<text x="36.8" y="239.5" font-size="9.0" text-anchor="middle">60N</text>
<text x="73.6" y="239.5" font-size="9.0" text-anchor="middle">30N</text>
<text x="110.4" y="239.5" font-size="9.0" text-anchor="middle">0</text>
<text x="147.2" y="239.5" font-size="9.0" text-anchor="middle">30S</text>
<text x="184.0" y="239.5" font-size="9.0" text-anchor="middle">60S</text>
<text x="220.8" y="239.5" font-size="9.0" text-anchor="middle">90S</text>
<text x="0.6" y="-10.0" font-size="12.3" text-anchor="start" textLength="113.7" lengthAdjust="spacingAndGlyphs">Transient eddy KE</text>
<text font-size="12.3"><tspan x="184.7" y="-9.4" textLength="10.2" lengthAdjust="spacingAndGlyphs">m</tspan><tspan x="196.0" y="-14.8" font-size="8.2" textLength="4.6" lengthAdjust="spacingAndGlyphs">2</tspan><tspan x="201.0" y="-8.0" font-size="17.5" rotate="12" stroke-width="0">/</tspan><tspan x="210.9" y="-9.4" textLength="5.8" lengthAdjust="spacingAndGlyphs">s</tspan><tspan x="216.7" y="-14.8" font-size="8.2" textLength="4.6" lengthAdjust="spacingAndGlyphs">2</tspan></text>
<text x="110.7" y="-31.1" font-size="14.6" text-anchor="middle" textLength="143.0" lengthAdjust="spacingAndGlyphs">RampCO2 &#8722; Control</text>
<text x="-41.3" y="110.5" font-size="12.5" text-anchor="middle" textLength="100.0" lengthAdjust="spacingAndGlyphs" transform="rotate(-90 -41.3 110.5)">Pressure (mb)</text>
<text x="260.6" y="110.5" font-size="12.5" text-anchor="middle" textLength="82.0" lengthAdjust="spacingAndGlyphs" transform="rotate(-90 260.6 110.5)">Height (km)</text>
</g>
<rect x="98.30" y="435.1" width="13.42" height="19.6" fill="#9370DB" stroke="#000" stroke-width="0.55"/>
<rect x="111.72" y="435.1" width="13.42" height="19.6" fill="#0000CD" stroke="#000" stroke-width="0.55"/>
<rect x="125.14" y="435.1" width="13.42" height="19.6" fill="#4169E1" stroke="#000" stroke-width="0.55"/>
<rect x="138.56" y="435.1" width="13.42" height="19.6" fill="#7799EE" stroke="#000" stroke-width="0.55"/>
<rect x="151.98" y="435.1" width="13.42" height="19.6" fill="#B0E0E6" stroke="#000" stroke-width="0.55"/>
<rect x="165.40" y="435.1" width="13.42" height="19.6" fill="#20B2AA" stroke="#000" stroke-width="0.55"/>
<rect x="178.82" y="435.1" width="13.42" height="19.6" fill="#BCEE68" stroke="#000" stroke-width="0.55"/>
<rect x="192.24" y="435.1" width="13.42" height="19.6" fill="#94C23C" stroke="#000" stroke-width="0.55"/>
<rect x="205.66" y="435.1" width="13.42" height="19.6" fill="#F5E4BE" stroke="#000" stroke-width="0.55"/>
<rect x="219.08" y="435.1" width="13.42" height="19.6" fill="#DEB887" stroke="#000" stroke-width="0.55"/>
<rect x="232.50" y="435.1" width="13.42" height="19.6" fill="#FFE100" stroke="#000" stroke-width="0.55"/>
<rect x="245.92" y="435.1" width="13.42" height="19.6" fill="#FFA500" stroke="#000" stroke-width="0.55"/>
<rect x="259.34" y="435.1" width="13.42" height="19.6" fill="#FF4500" stroke="#000" stroke-width="0.55"/>
<rect x="272.76" y="435.1" width="13.42" height="19.6" fill="#B22222" stroke="#000" stroke-width="0.55"/>
<rect x="286.18" y="435.1" width="13.42" height="19.6" fill="#FFB6C1" stroke="#000" stroke-width="0.55"/>
<rect x="299.60" y="435.1" width="13.42" height="19.6" fill="#FF1493" stroke="#000" stroke-width="0.55"/>
<text x="111.7" y="467.7" font-size="9.6" text-anchor="middle">10</text>
<text x="138.6" y="467.7" font-size="9.6" text-anchor="middle">50</text>
<text x="165.4" y="467.7" font-size="9.6" text-anchor="middle">90</text>
<text x="192.2" y="467.7" font-size="9.6" text-anchor="middle">130</text>
<text x="219.1" y="467.7" font-size="9.6" text-anchor="middle">170</text>
<text x="245.9" y="467.7" font-size="9.6" text-anchor="middle">210</text>
<text x="272.8" y="467.7" font-size="9.6" text-anchor="middle">250</text>
<text x="299.6" y="467.7" font-size="9.6" text-anchor="middle">290</text>
<rect x="419.90" y="435.1" width="13.42" height="19.6" fill="#9370DB" stroke="#000" stroke-width="0.55"/>
<rect x="433.32" y="435.1" width="13.42" height="19.6" fill="#0000CD" stroke="#000" stroke-width="0.55"/>
<rect x="446.74" y="435.1" width="13.42" height="19.6" fill="#4169E1" stroke="#000" stroke-width="0.55"/>
<rect x="460.16" y="435.1" width="13.42" height="19.6" fill="#7799EE" stroke="#000" stroke-width="0.55"/>
<rect x="473.58" y="435.1" width="13.42" height="19.6" fill="#B0E0E6" stroke="#000" stroke-width="0.55"/>
<rect x="487.00" y="435.1" width="13.42" height="19.6" fill="#20B2AA" stroke="#000" stroke-width="0.55"/>
<rect x="500.42" y="435.1" width="13.42" height="19.6" fill="#BCEE68" stroke="#000" stroke-width="0.55"/>
<rect x="513.84" y="435.1" width="13.42" height="19.6" fill="#94C23C" stroke="#000" stroke-width="0.55"/>
<rect x="527.26" y="435.1" width="13.42" height="19.6" fill="#F5E4BE" stroke="#000" stroke-width="0.55"/>
<rect x="540.68" y="435.1" width="13.42" height="19.6" fill="#DEB887" stroke="#000" stroke-width="0.55"/>
<rect x="554.10" y="435.1" width="13.42" height="19.6" fill="#FFE100" stroke="#000" stroke-width="0.55"/>
<rect x="567.52" y="435.1" width="13.42" height="19.6" fill="#FFA500" stroke="#000" stroke-width="0.55"/>
<rect x="580.94" y="435.1" width="13.42" height="19.6" fill="#FF4500" stroke="#000" stroke-width="0.55"/>
<rect x="594.36" y="435.1" width="13.42" height="19.6" fill="#B22222" stroke="#000" stroke-width="0.55"/>
<rect x="607.78" y="435.1" width="13.42" height="19.6" fill="#FFB6C1" stroke="#000" stroke-width="0.55"/>
<rect x="621.20" y="435.1" width="13.42" height="19.6" fill="#FF1493" stroke="#000" stroke-width="0.55"/>
<text x="433.3" y="467.7" font-size="9.6" text-anchor="middle">10</text>
<text x="460.2" y="467.7" font-size="9.6" text-anchor="middle">50</text>
<text x="487.0" y="467.7" font-size="9.6" text-anchor="middle">90</text>
<text x="513.8" y="467.7" font-size="9.6" text-anchor="middle">130</text>
<text x="540.7" y="467.7" font-size="9.6" text-anchor="middle">170</text>
<text x="567.5" y="467.7" font-size="9.6" text-anchor="middle">210</text>
<text x="594.4" y="467.7" font-size="9.6" text-anchor="middle">250</text>
<text x="621.2" y="467.7" font-size="9.6" text-anchor="middle">290</text>
<text y="425.1" font-size="11.5"><tspan x="122.2" textLength="17.3" lengthAdjust="spacingAndGlyphs">MIN</tspan> <tspan x="147.4" textLength="6.9" lengthAdjust="spacingAndGlyphs">=</tspan> <tspan x="172.7" textLength="23.1" lengthAdjust="spacingAndGlyphs">7.96</tspan> <tspan x="208.6" textLength="20.8" lengthAdjust="spacingAndGlyphs">MAX</tspan> <tspan x="236.3" textLength="6.9" lengthAdjust="spacingAndGlyphs">=</tspan> <tspan x="250.1" textLength="38.4" lengthAdjust="spacingAndGlyphs">432.65</tspan></text>
<text y="425.1" font-size="11.5"><tspan x="444.4" textLength="17.3" lengthAdjust="spacingAndGlyphs">MIN</tspan> <tspan x="469.6" textLength="6.9" lengthAdjust="spacingAndGlyphs">=</tspan> <tspan x="494.9" textLength="23.1" lengthAdjust="spacingAndGlyphs">7.79</tspan> <tspan x="530.8" textLength="20.8" lengthAdjust="spacingAndGlyphs">MAX</tspan> <tspan x="558.5" textLength="6.9" lengthAdjust="spacingAndGlyphs">=</tspan> <tspan x="572.3" textLength="38.4" lengthAdjust="spacingAndGlyphs">442.26</tspan></text>
<text y="550.5" font-size="11.5"><tspan x="506.5" textLength="17.3" lengthAdjust="spacingAndGlyphs">MIN</tspan> <tspan x="531.4" textLength="7.3" lengthAdjust="spacingAndGlyphs">=</tspan> <tspan x="546.3" textLength="39.2" lengthAdjust="spacingAndGlyphs">&#8722;29.23</tspan> <tspan x="597.8" textLength="19.9" lengthAdjust="spacingAndGlyphs">MAX</tspan> <tspan x="625.0" textLength="7.7" lengthAdjust="spacingAndGlyphs">=</tspan> <tspan x="644.9" textLength="30.9" lengthAdjust="spacingAndGlyphs">45.93</tspan></text>
<rect x="564.6" y="569.10" width="30.5" height="11.14" fill="#FF1493" stroke="#000" stroke-width="0.55"/>
<rect x="564.6" y="580.24" width="30.5" height="11.14" fill="#FFB6C1" stroke="#000" stroke-width="0.55"/>
<rect x="564.6" y="591.38" width="30.5" height="11.14" fill="#B22222" stroke="#000" stroke-width="0.55"/>
<rect x="564.6" y="602.52" width="30.5" height="11.14" fill="#FF4500" stroke="#000" stroke-width="0.55"/>
<rect x="564.6" y="613.66" width="30.5" height="11.14" fill="#FFA500" stroke="#000" stroke-width="0.55"/>
<rect x="564.6" y="624.80" width="30.5" height="11.14" fill="#FFE100" stroke="#000" stroke-width="0.55"/>
<rect x="564.6" y="635.94" width="30.5" height="11.14" fill="#DEB887" stroke="#000" stroke-width="0.55"/>
<rect x="564.6" y="647.08" width="30.5" height="11.14" fill="#F5E4BE" stroke="#000" stroke-width="0.55"/>
<rect x="564.6" y="658.22" width="30.5" height="11.14" fill="#94C23C" stroke="#000" stroke-width="0.55"/>
<rect x="564.6" y="669.36" width="30.5" height="11.14" fill="#BCEE68" stroke="#000" stroke-width="0.55"/>
<rect x="564.6" y="680.50" width="30.5" height="11.14" fill="#20B2AA" stroke="#000" stroke-width="0.55"/>
<rect x="564.6" y="691.64" width="30.5" height="11.14" fill="#B0E0E6" stroke="#000" stroke-width="0.55"/>
<rect x="564.6" y="702.78" width="30.5" height="11.14" fill="#7799EE" stroke="#000" stroke-width="0.55"/>
<rect x="564.6" y="713.92" width="30.5" height="11.14" fill="#4169E1" stroke="#000" stroke-width="0.55"/>
<rect x="564.6" y="725.06" width="30.5" height="11.14" fill="#0000CD" stroke="#000" stroke-width="0.55"/>
<rect x="564.6" y="736.20" width="30.5" height="11.14" fill="#9370DB" stroke="#000" stroke-width="0.55"/>
<text x="608.3" y="584.3" font-size="9.8" text-anchor="middle">50</text>
<text x="608.3" y="595.5" font-size="9.8" text-anchor="middle">40</text>
<text x="608.3" y="606.6" font-size="9.8" text-anchor="middle">30</text>
<text x="608.3" y="617.8" font-size="9.8" text-anchor="middle">20</text>
<text x="608.3" y="628.9" font-size="9.8" text-anchor="middle">15</text>
<text x="608.3" y="640.0" font-size="9.8" text-anchor="middle">10</text>
<text x="608.3" y="651.2" font-size="9.8" text-anchor="middle">5</text>
<text x="608.3" y="662.3" font-size="9.8" text-anchor="middle">0</text>
<text x="608.3" y="673.5" font-size="9.8" text-anchor="middle">&#8722;5</text>
<text x="608.3" y="684.6" font-size="9.8" text-anchor="middle">&#8722;10</text>
<text x="608.3" y="695.7" font-size="9.8" text-anchor="middle">&#8722;15</text>
<text x="608.3" y="706.9" font-size="9.8" text-anchor="middle">&#8722;20</text>
<text x="608.3" y="718.0" font-size="9.8" text-anchor="middle">&#8722;30</text>
<text x="608.3" y="729.2" font-size="9.8" text-anchor="middle">&#8722;40</text>
<text x="608.3" y="740.3" font-size="9.8" text-anchor="middle">&#8722;50</text>
</svg></body></html>
